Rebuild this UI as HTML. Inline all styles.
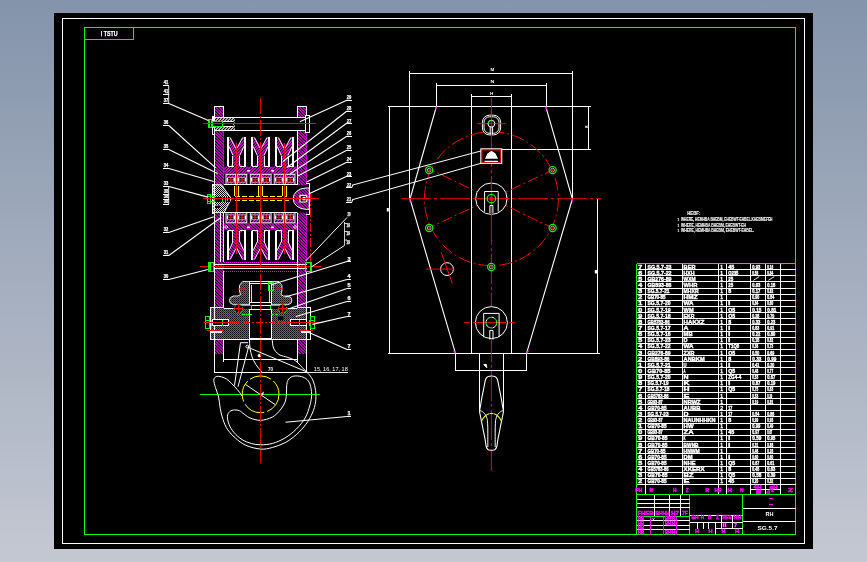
<!DOCTYPE html>
<html><head><meta charset="utf-8">
<style>
html,body{margin:0;padding:0;width:867px;height:562px;overflow:hidden;font-family:"Liberation Sans",sans-serif;}
body{background:linear-gradient(to bottom,#8494ab 0%,#c4c8d2 100%);}
svg{position:absolute;left:0;top:0;}
svg text{font-family:"Liberation Sans",sans-serif;}
</style></head><body>
<svg width="867" height="562" viewBox="0 0 867 562">
<g filter="url(#idf)">
<defs>
<filter id="idf" x="0" y="0" width="867" height="562" filterUnits="userSpaceOnUse" color-interpolation-filters="sRGB"><feOffset dx="0" dy="0"/></filter>
<pattern id="hB" width="3" height="3" patternUnits="userSpaceOnUse" shape-rendering="crispEdges"><rect x="0" y="0" width="1" height="1" fill="#8f008f"/><rect x="1" y="0" width="1" height="1" fill="#c300c3"/><rect x="2" y="0" width="1" height="1" fill="#0c000c"/><rect x="0" y="1" width="1" height="1" fill="#0c000c"/><rect x="1" y="1" width="1" height="1" fill="#8f008f"/><rect x="2" y="1" width="1" height="1" fill="#c300c3"/><rect x="0" y="2" width="1" height="1" fill="#c300c3"/><rect x="1" y="2" width="1" height="1" fill="#0c000c"/><rect x="2" y="2" width="1" height="1" fill="#8f008f"/></pattern>
<pattern id="hF" width="3" height="3" patternUnits="userSpaceOnUse" shape-rendering="crispEdges"><rect x="0" y="0" width="1" height="1" fill="#d700d7"/><rect x="1" y="0" width="1" height="1" fill="#180018"/><rect x="2" y="0" width="1" height="1" fill="#8f008f"/><rect x="0" y="1" width="1" height="1" fill="#180018"/><rect x="1" y="1" width="1" height="1" fill="#8f008f"/><rect x="2" y="1" width="1" height="1" fill="#d700d7"/><rect x="0" y="2" width="1" height="1" fill="#8f008f"/><rect x="1" y="2" width="1" height="1" fill="#d700d7"/><rect x="2" y="2" width="1" height="1" fill="#180018"/></pattern>
<pattern id="hW" width="3" height="3" patternUnits="userSpaceOnUse" shape-rendering="crispEdges"><rect x="0" y="0" width="1" height="1" fill="#c3c3c3"/><rect x="1" y="0" width="1" height="1" fill="#0c0c0c"/><rect x="2" y="0" width="1" height="1" fill="#8f8f8f"/><rect x="0" y="1" width="1" height="1" fill="#0c0c0c"/><rect x="1" y="1" width="1" height="1" fill="#8f8f8f"/><rect x="2" y="1" width="1" height="1" fill="#c3c3c3"/><rect x="0" y="2" width="1" height="1" fill="#8f8f8f"/><rect x="1" y="2" width="1" height="1" fill="#c3c3c3"/><rect x="2" y="2" width="1" height="1" fill="#0c0c0c"/></pattern>
<pattern id="hX" width="2" height="2" patternUnits="userSpaceOnUse" shape-rendering="crispEdges"><rect width="2" height="2" fill="#f0f"/><rect x="0" y="0" width="1" height="1" fill="#000" fill-opacity="0.95"/><rect x="1" y="1" width="1" height="1" fill="#000" fill-opacity="0.57"/></pattern>
<pattern id="hWX" width="2" height="2" patternUnits="userSpaceOnUse" shape-rendering="crispEdges"><rect width="2" height="2" fill="#000"/><rect x="1" width="1" height="1" fill="#fff" fill-opacity="0.85"/><rect x="0" y="1" width="1" height="1" fill="#fff" fill-opacity="0.85"/></pattern>
</defs>
<g shape-rendering="crispEdges">
<rect x="54" y="13" width="759" height="536" fill="#000" stroke="none" stroke-width="1" />
<rect x="62.5" y="18.5" width="742" height="525" fill="none" stroke="#fff" stroke-width="1" />
<rect x="84.5" y="27.5" width="711" height="507" fill="none" stroke="#0f0" stroke-width="1" />
<rect x="84.5" y="27.5" width="49" height="12" fill="none" stroke="#0f0" stroke-width="1" />
</g>
<text x="100.8" y="36" font-size="7" fill="#fff" text-anchor="start" font-weight="bold" textLength="16.8" lengthAdjust="spacingAndGlyphs" stroke="#fff" stroke-width="0.25">I TSTU</text>
<g shape-rendering="crispEdges">
<line x1="636.5" y1="269.5" x2="795.5" y2="269.5" stroke="#fff" stroke-width="1" />
<line x1="636.5" y1="275.5" x2="795.5" y2="275.5" stroke="#fff" stroke-width="1" />
<line x1="636.5" y1="281.5" x2="795.5" y2="281.5" stroke="#fff" stroke-width="1" />
<line x1="636.5" y1="288.5" x2="795.5" y2="288.5" stroke="#fff" stroke-width="1" />
<line x1="636.5" y1="294.5" x2="795.5" y2="294.5" stroke="#fff" stroke-width="1" />
<line x1="636.5" y1="300.5" x2="795.5" y2="300.5" stroke="#fff" stroke-width="1" />
<line x1="636.5" y1="306.5" x2="795.5" y2="306.5" stroke="#fff" stroke-width="1" />
<line x1="636.5" y1="312.5" x2="795.5" y2="312.5" stroke="#fff" stroke-width="1" />
<line x1="636.5" y1="318.5" x2="795.5" y2="318.5" stroke="#fff" stroke-width="1" />
<line x1="636.5" y1="324.5" x2="795.5" y2="324.5" stroke="#fff" stroke-width="1" />
<line x1="636.5" y1="331.5" x2="795.5" y2="331.5" stroke="#fff" stroke-width="1" />
<line x1="636.5" y1="337.5" x2="795.5" y2="337.5" stroke="#fff" stroke-width="1" />
<line x1="636.5" y1="343.5" x2="795.5" y2="343.5" stroke="#fff" stroke-width="1" />
<line x1="636.5" y1="349.5" x2="795.5" y2="349.5" stroke="#fff" stroke-width="1" />
<line x1="636.5" y1="355.5" x2="795.5" y2="355.5" stroke="#fff" stroke-width="1" />
<line x1="636.5" y1="361.5" x2="795.5" y2="361.5" stroke="#fff" stroke-width="1" />
<line x1="636.5" y1="367.5" x2="795.5" y2="367.5" stroke="#fff" stroke-width="1" />
<line x1="636.5" y1="374.5" x2="795.5" y2="374.5" stroke="#fff" stroke-width="1" />
<line x1="636.5" y1="380.5" x2="795.5" y2="380.5" stroke="#fff" stroke-width="1" />
<line x1="636.5" y1="386.5" x2="795.5" y2="386.5" stroke="#fff" stroke-width="1" />
<line x1="636.5" y1="392.5" x2="795.5" y2="392.5" stroke="#fff" stroke-width="1" />
<line x1="636.5" y1="398.5" x2="795.5" y2="398.5" stroke="#fff" stroke-width="1" />
<line x1="636.5" y1="404.5" x2="795.5" y2="404.5" stroke="#fff" stroke-width="1" />
<line x1="636.5" y1="410.5" x2="795.5" y2="410.5" stroke="#fff" stroke-width="1" />
<line x1="636.5" y1="416.5" x2="795.5" y2="416.5" stroke="#fff" stroke-width="1" />
<line x1="636.5" y1="423.5" x2="795.5" y2="423.5" stroke="#fff" stroke-width="1" />
<line x1="636.5" y1="429.5" x2="795.5" y2="429.5" stroke="#fff" stroke-width="1" />
<line x1="636.5" y1="435.5" x2="795.5" y2="435.5" stroke="#fff" stroke-width="1" />
<line x1="636.5" y1="441.5" x2="795.5" y2="441.5" stroke="#fff" stroke-width="1" />
<line x1="636.5" y1="447.5" x2="795.5" y2="447.5" stroke="#fff" stroke-width="1" />
<line x1="636.5" y1="453.5" x2="795.5" y2="453.5" stroke="#fff" stroke-width="1" />
<line x1="636.5" y1="459.5" x2="795.5" y2="459.5" stroke="#fff" stroke-width="1" />
<line x1="636.5" y1="466.5" x2="795.5" y2="466.5" stroke="#fff" stroke-width="1" />
<line x1="636.5" y1="472.5" x2="795.5" y2="472.5" stroke="#fff" stroke-width="1" />
<line x1="636.5" y1="478.5" x2="795.5" y2="478.5" stroke="#fff" stroke-width="1" />
<line x1="636.5" y1="484.5" x2="795.5" y2="484.5" stroke="#fff" stroke-width="1" />
<line x1="645.5" y1="263.5" x2="645.5" y2="494.5" stroke="#fff" stroke-width="1" />
<line x1="682.5" y1="263.5" x2="682.5" y2="494.5" stroke="#fff" stroke-width="1" />
<line x1="718.5" y1="263.5" x2="718.5" y2="494.5" stroke="#fff" stroke-width="1" />
<line x1="726.5" y1="263.5" x2="726.5" y2="494.5" stroke="#fff" stroke-width="1" />
<line x1="750.5" y1="263.5" x2="750.5" y2="494.5" stroke="#fff" stroke-width="1" />
<line x1="765.5" y1="263.5" x2="765.5" y2="494.5" stroke="#fff" stroke-width="1" />
<line x1="780.5" y1="263.5" x2="780.5" y2="494.5" stroke="#fff" stroke-width="1" />
<line x1="750.5" y1="489.5" x2="780.5" y2="489.5" stroke="#fff" stroke-width="1" />
<line x1="636.5" y1="263.5" x2="636.5" y2="534.5" stroke="#0f0" stroke-width="1" />
<line x1="636.5" y1="263.5" x2="795.5" y2="263.5" stroke="#0f0" stroke-width="1" />
<line x1="636.5" y1="494.5" x2="795.5" y2="494.5" stroke="#0f0" stroke-width="1" />
</g>
<g font-weight="bold" fill="#fff" font-size="5.6" stroke="#fff" stroke-width="0.4">
<text x="638.3" y="268.6" font-size="5.6" fill="#fff" text-anchor="start" font-weight="bold" textLength="4" lengthAdjust="spacingAndGlyphs" >7</text>
<text x="647.5" y="268.6" font-size="5.6" fill="#fff" text-anchor="start" font-weight="bold" textLength="24" lengthAdjust="spacingAndGlyphs" >SG.5.7-23</text>
<text x="683.6" y="268.6" font-size="5.8" fill="#fff" text-anchor="start" font-weight="bold" textLength="12" lengthAdjust="spacingAndGlyphs" >BER</text>
<text x="720.3" y="268.6" font-size="5.2" fill="#fff" text-anchor="start" font-weight="normal" >1</text>
<text x="728.3" y="268.6" font-size="5.4" fill="#fff" text-anchor="start" font-weight="bold" textLength="6" lengthAdjust="spacingAndGlyphs" >45</text>
<text x="752.3" y="268.6" font-size="5.6" fill="#fff" text-anchor="start" font-weight="bold" textLength="8" lengthAdjust="spacingAndGlyphs" >0.93</text>
<text x="767.3" y="268.6" font-size="5.6" fill="#fff" text-anchor="start" font-weight="bold" textLength="6" lengthAdjust="spacingAndGlyphs" >0.16</text>
<text x="638.3" y="274.73900000000003" font-size="5.6" fill="#fff" text-anchor="start" font-weight="bold" textLength="4" lengthAdjust="spacingAndGlyphs" >6</text>
<text x="647.5" y="274.73900000000003" font-size="5.6" fill="#fff" text-anchor="start" font-weight="bold" textLength="24" lengthAdjust="spacingAndGlyphs" >SG.5.7-22</text>
<text x="683.6" y="274.73900000000003" font-size="5.8" fill="#fff" text-anchor="start" font-weight="bold" textLength="11" lengthAdjust="spacingAndGlyphs" >HXH</text>
<text x="720.3" y="274.73900000000003" font-size="5.2" fill="#fff" text-anchor="start" font-weight="normal" >1</text>
<text x="728.3" y="274.73900000000003" font-size="5.4" fill="#fff" text-anchor="start" font-weight="bold" textLength="10" lengthAdjust="spacingAndGlyphs" >Q235</text>
<text x="752.3" y="274.73900000000003" font-size="5.6" fill="#fff" text-anchor="start" font-weight="bold" textLength="6" lengthAdjust="spacingAndGlyphs" >0.56</text>
<text x="767.3" y="274.73900000000003" font-size="5.6" fill="#fff" text-anchor="start" font-weight="bold" textLength="6" lengthAdjust="spacingAndGlyphs" >0.84</text>
<text x="638.3" y="280.87800000000004" font-size="5.6" fill="#fff" text-anchor="start" font-weight="bold" textLength="4" lengthAdjust="spacingAndGlyphs" >5</text>
<text x="647.5" y="280.87800000000004" font-size="5.6" fill="#fff" text-anchor="start" font-weight="bold" textLength="24" lengthAdjust="spacingAndGlyphs" >GB276-89</text>
<text x="683.6" y="280.87800000000004" font-size="5.8" fill="#fff" text-anchor="start" font-weight="bold" textLength="12" lengthAdjust="spacingAndGlyphs" >WXM</text>
<text x="720.3" y="280.87800000000004" font-size="5.2" fill="#fff" text-anchor="start" font-weight="normal" >1</text>
<text x="728.3" y="280.87800000000004" font-size="5.4" fill="#fff" text-anchor="start" font-weight="bold" textLength="5" lengthAdjust="spacingAndGlyphs" >25</text>
<line x1="753.3" y1="280.37800000000004" x2="759.3" y2="276.57800000000003" stroke="#fff" stroke-width="0.9" />
<line x1="768.3" y1="280.37800000000004" x2="774.3" y2="276.57800000000003" stroke="#fff" stroke-width="0.9" />
<text x="638.3" y="287.01700000000005" font-size="5.6" fill="#fff" text-anchor="start" font-weight="bold" textLength="4" lengthAdjust="spacingAndGlyphs" >4</text>
<text x="647.5" y="287.01700000000005" font-size="5.6" fill="#fff" text-anchor="start" font-weight="bold" textLength="24" lengthAdjust="spacingAndGlyphs" >GB893-86</text>
<text x="683.6" y="287.01700000000005" font-size="5.8" fill="#fff" text-anchor="start" font-weight="bold" textLength="14" lengthAdjust="spacingAndGlyphs" >WHR</text>
<text x="720.3" y="287.01700000000005" font-size="5.2" fill="#fff" text-anchor="start" font-weight="normal" >1</text>
<text x="728.3" y="287.01700000000005" font-size="5.4" fill="#fff" text-anchor="start" font-weight="bold" textLength="5" lengthAdjust="spacingAndGlyphs" >25</text>
<text x="752.3" y="287.01700000000005" font-size="5.6" fill="#fff" text-anchor="start" font-weight="bold" textLength="8" lengthAdjust="spacingAndGlyphs" >0.63</text>
<text x="767.3" y="287.01700000000005" font-size="5.6" fill="#fff" text-anchor="start" font-weight="bold" textLength="8" lengthAdjust="spacingAndGlyphs" >0.18</text>
<text x="638.3" y="293.156" font-size="5.6" fill="#fff" text-anchor="start" font-weight="bold" textLength="4" lengthAdjust="spacingAndGlyphs" >3</text>
<text x="647.5" y="293.156" font-size="5.6" fill="#fff" text-anchor="start" font-weight="bold" textLength="22" lengthAdjust="spacingAndGlyphs" >SG.5.7-21</text>
<text x="683.6" y="293.156" font-size="5.8" fill="#fff" text-anchor="start" font-weight="bold" textLength="15" lengthAdjust="spacingAndGlyphs" >MHXR</text>
<text x="720.3" y="293.156" font-size="5.2" fill="#fff" text-anchor="start" font-weight="normal" >1</text>
<text x="728.3" y="293.156" font-size="5.4" fill="#fff" text-anchor="start" font-weight="bold" textLength="3" lengthAdjust="spacingAndGlyphs" >8</text>
<text x="752.3" y="293.156" font-size="5.6" fill="#fff" text-anchor="start" font-weight="bold" textLength="8" lengthAdjust="spacingAndGlyphs" >0.17</text>
<text x="767.3" y="293.156" font-size="5.6" fill="#fff" text-anchor="start" font-weight="bold" textLength="6" lengthAdjust="spacingAndGlyphs" >0.82</text>
<text x="638.3" y="299.295" font-size="5.6" fill="#fff" text-anchor="start" font-weight="bold" textLength="4" lengthAdjust="spacingAndGlyphs" >2</text>
<text x="647.5" y="299.295" font-size="5.6" fill="#fff" text-anchor="start" font-weight="bold" textLength="18" lengthAdjust="spacingAndGlyphs" >GB70-85</text>
<text x="683.6" y="299.295" font-size="5.8" fill="#fff" text-anchor="start" font-weight="bold" textLength="14" lengthAdjust="spacingAndGlyphs" >HMZ</text>
<text x="720.3" y="299.295" font-size="5.2" fill="#fff" text-anchor="start" font-weight="normal" >1</text>
<text x="752.3" y="299.295" font-size="5.6" fill="#fff" text-anchor="start" font-weight="bold" textLength="7" lengthAdjust="spacingAndGlyphs" >0.90</text>
<text x="767.3" y="299.295" font-size="5.6" fill="#fff" text-anchor="start" font-weight="bold" textLength="7" lengthAdjust="spacingAndGlyphs" >0.84</text>
<text x="638.3" y="305.434" font-size="5.6" fill="#fff" text-anchor="start" font-weight="bold" textLength="4" lengthAdjust="spacingAndGlyphs" >1</text>
<text x="647.5" y="305.434" font-size="5.6" fill="#fff" text-anchor="start" font-weight="bold" textLength="23" lengthAdjust="spacingAndGlyphs" >SG.5.7-20</text>
<text x="683.6" y="305.434" font-size="5.8" fill="#fff" text-anchor="start" font-weight="bold" textLength="10" lengthAdjust="spacingAndGlyphs" >WA</text>
<text x="720.3" y="305.434" font-size="5.2" fill="#fff" text-anchor="start" font-weight="normal" >1</text>
<text x="728.3" y="305.434" font-size="5.4" fill="#fff" text-anchor="start" font-weight="bold" textLength="2" lengthAdjust="spacingAndGlyphs" >I</text>
<text x="752.3" y="305.434" font-size="5.6" fill="#fff" text-anchor="start" font-weight="bold" textLength="6" lengthAdjust="spacingAndGlyphs" >0.84</text>
<text x="767.3" y="305.434" font-size="5.6" fill="#fff" text-anchor="start" font-weight="bold" textLength="6" lengthAdjust="spacingAndGlyphs" >0.60</text>
<text x="638.3" y="311.57300000000004" font-size="5.6" fill="#fff" text-anchor="start" font-weight="bold" textLength="4" lengthAdjust="spacingAndGlyphs" >0</text>
<text x="647.5" y="311.57300000000004" font-size="5.6" fill="#fff" text-anchor="start" font-weight="bold" textLength="23" lengthAdjust="spacingAndGlyphs" >SG.5.7-19</text>
<text x="683.6" y="311.57300000000004" font-size="5.8" fill="#fff" text-anchor="start" font-weight="bold" textLength="10" lengthAdjust="spacingAndGlyphs" >WM</text>
<text x="720.3" y="311.57300000000004" font-size="5.2" fill="#fff" text-anchor="start" font-weight="normal" >1</text>
<text x="728.3" y="311.57300000000004" font-size="5.4" fill="#fff" text-anchor="start" font-weight="bold" textLength="7" lengthAdjust="spacingAndGlyphs" >Q5</text>
<text x="752.3" y="311.57300000000004" font-size="5.6" fill="#fff" text-anchor="start" font-weight="bold" textLength="9" lengthAdjust="spacingAndGlyphs" >0.15</text>
<text x="767.3" y="311.57300000000004" font-size="5.6" fill="#fff" text-anchor="start" font-weight="bold" textLength="9" lengthAdjust="spacingAndGlyphs" >0.81</text>
<text x="638.3" y="317.71200000000005" font-size="5.6" fill="#fff" text-anchor="start" font-weight="bold" textLength="4" lengthAdjust="spacingAndGlyphs" >9</text>
<text x="647.5" y="317.71200000000005" font-size="5.6" fill="#fff" text-anchor="start" font-weight="bold" textLength="23" lengthAdjust="spacingAndGlyphs" >SG.5.7-18</text>
<text x="683.6" y="317.71200000000005" font-size="5.8" fill="#fff" text-anchor="start" font-weight="bold" textLength="11" lengthAdjust="spacingAndGlyphs" >EKR</text>
<text x="720.3" y="317.71200000000005" font-size="5.2" fill="#fff" text-anchor="start" font-weight="normal" >1</text>
<text x="728.3" y="317.71200000000005" font-size="5.4" fill="#fff" text-anchor="start" font-weight="bold" textLength="7" lengthAdjust="spacingAndGlyphs" >Q5</text>
<text x="752.3" y="317.71200000000005" font-size="5.6" fill="#fff" text-anchor="start" font-weight="bold" textLength="7" lengthAdjust="spacingAndGlyphs" >0.28</text>
<text x="767.3" y="317.71200000000005" font-size="5.6" fill="#fff" text-anchor="start" font-weight="bold" textLength="7" lengthAdjust="spacingAndGlyphs" >0.79</text>
<text x="638.3" y="323.851" font-size="5.6" fill="#fff" text-anchor="start" font-weight="bold" textLength="4" lengthAdjust="spacingAndGlyphs" >8</text>
<text x="647.5" y="323.851" font-size="5.6" fill="#fff" text-anchor="start" font-weight="bold" textLength="22" lengthAdjust="spacingAndGlyphs" >GB5783-86</text>
<text x="683.6" y="323.851" font-size="5.8" fill="#fff" text-anchor="start" font-weight="bold" textLength="21" lengthAdjust="spacingAndGlyphs" >HAKXZ</text>
<text x="720.3" y="323.851" font-size="5.2" fill="#fff" text-anchor="start" font-weight="normal" >1</text>
<text x="728.3" y="323.851" font-size="5.4" fill="#fff" text-anchor="start" font-weight="bold" textLength="3" lengthAdjust="spacingAndGlyphs" >8</text>
<text x="752.3" y="323.851" font-size="5.6" fill="#fff" text-anchor="start" font-weight="bold" textLength="8" lengthAdjust="spacingAndGlyphs" >0.33</text>
<text x="767.3" y="323.851" font-size="5.6" fill="#fff" text-anchor="start" font-weight="bold" textLength="8" lengthAdjust="spacingAndGlyphs" >0.23</text>
<text x="638.3" y="329.99" font-size="5.6" fill="#fff" text-anchor="start" font-weight="bold" textLength="4" lengthAdjust="spacingAndGlyphs" >7</text>
<text x="647.5" y="329.99" font-size="5.6" fill="#fff" text-anchor="start" font-weight="bold" textLength="23" lengthAdjust="spacingAndGlyphs" >SG.5.7-17</text>
<text x="683.6" y="329.99" font-size="5.8" fill="#fff" text-anchor="start" font-weight="bold" textLength="5" lengthAdjust="spacingAndGlyphs" >A</text>
<text x="720.3" y="329.99" font-size="5.2" fill="#fff" text-anchor="start" font-weight="normal" >1</text>
<text x="728.3" y="329.99" font-size="5.4" fill="#fff" text-anchor="start" font-weight="bold" textLength="2" lengthAdjust="spacingAndGlyphs" >I</text>
<text x="752.3" y="329.99" font-size="5.6" fill="#fff" text-anchor="start" font-weight="bold" textLength="7" lengthAdjust="spacingAndGlyphs" >0.83</text>
<text x="767.3" y="329.99" font-size="5.6" fill="#fff" text-anchor="start" font-weight="bold" textLength="7" lengthAdjust="spacingAndGlyphs" >0.91</text>
<text x="638.3" y="336.129" font-size="5.6" fill="#fff" text-anchor="start" font-weight="bold" textLength="4" lengthAdjust="spacingAndGlyphs" >6</text>
<text x="647.5" y="336.129" font-size="5.6" fill="#fff" text-anchor="start" font-weight="bold" textLength="23" lengthAdjust="spacingAndGlyphs" >SG.5.7-16</text>
<text x="683.6" y="336.129" font-size="5.8" fill="#fff" text-anchor="start" font-weight="bold" textLength="9" lengthAdjust="spacingAndGlyphs" >MB</text>
<text x="720.3" y="336.129" font-size="5.2" fill="#fff" text-anchor="start" font-weight="normal" >1</text>
<text x="728.3" y="336.129" font-size="5.4" fill="#fff" text-anchor="start" font-weight="bold" textLength="2" lengthAdjust="spacingAndGlyphs" >I</text>
<text x="752.3" y="336.129" font-size="5.6" fill="#fff" text-anchor="start" font-weight="bold" textLength="8" lengthAdjust="spacingAndGlyphs" >0.22</text>
<text x="767.3" y="336.129" font-size="5.6" fill="#fff" text-anchor="start" font-weight="bold" textLength="8" lengthAdjust="spacingAndGlyphs" >0.80</text>
<text x="638.3" y="342.26800000000003" font-size="5.6" fill="#fff" text-anchor="start" font-weight="bold" textLength="4" lengthAdjust="spacingAndGlyphs" >5</text>
<text x="647.5" y="342.26800000000003" font-size="5.6" fill="#fff" text-anchor="start" font-weight="bold" textLength="23" lengthAdjust="spacingAndGlyphs" >SG.5.7-23</text>
<text x="683.6" y="342.26800000000003" font-size="5.8" fill="#fff" text-anchor="start" font-weight="bold" textLength="4" lengthAdjust="spacingAndGlyphs" >D</text>
<text x="720.3" y="342.26800000000003" font-size="5.2" fill="#fff" text-anchor="start" font-weight="normal" >1</text>
<text x="728.3" y="342.26800000000003" font-size="5.4" fill="#fff" text-anchor="start" font-weight="bold" textLength="2" lengthAdjust="spacingAndGlyphs" >I</text>
<text x="752.3" y="342.26800000000003" font-size="5.6" fill="#fff" text-anchor="start" font-weight="bold" textLength="7" lengthAdjust="spacingAndGlyphs" >0.18</text>
<text x="767.3" y="342.26800000000003" font-size="5.6" fill="#fff" text-anchor="start" font-weight="bold" textLength="6" lengthAdjust="spacingAndGlyphs" >0.82</text>
<text x="638.3" y="348.40700000000004" font-size="5.6" fill="#fff" text-anchor="start" font-weight="bold" textLength="4" lengthAdjust="spacingAndGlyphs" >4</text>
<text x="647.5" y="348.40700000000004" font-size="5.6" fill="#fff" text-anchor="start" font-weight="bold" textLength="23" lengthAdjust="spacingAndGlyphs" >SG.5.7-22</text>
<text x="683.6" y="348.40700000000004" font-size="5.8" fill="#fff" text-anchor="start" font-weight="bold" textLength="10" lengthAdjust="spacingAndGlyphs" >WA</text>
<text x="720.3" y="348.40700000000004" font-size="5.2" fill="#fff" text-anchor="start" font-weight="normal" >1</text>
<text x="728.3" y="348.40700000000004" font-size="5.4" fill="#fff" text-anchor="start" font-weight="bold" textLength="11" lengthAdjust="spacingAndGlyphs" >T1Q0</text>
<text x="752.3" y="348.40700000000004" font-size="5.6" fill="#fff" text-anchor="start" font-weight="bold" textLength="6" lengthAdjust="spacingAndGlyphs" >0.36</text>
<text x="767.3" y="348.40700000000004" font-size="5.6" fill="#fff" text-anchor="start" font-weight="bold" textLength="6" lengthAdjust="spacingAndGlyphs" >0.73</text>
<text x="638.3" y="354.54600000000005" font-size="5.6" fill="#fff" text-anchor="start" font-weight="bold" textLength="4" lengthAdjust="spacingAndGlyphs" >3</text>
<text x="647.5" y="354.54600000000005" font-size="5.6" fill="#fff" text-anchor="start" font-weight="bold" textLength="23" lengthAdjust="spacingAndGlyphs" >GB276-89</text>
<text x="683.6" y="354.54600000000005" font-size="5.8" fill="#fff" text-anchor="start" font-weight="bold" textLength="11" lengthAdjust="spacingAndGlyphs" >ZXR</text>
<text x="720.3" y="354.54600000000005" font-size="5.2" fill="#fff" text-anchor="start" font-weight="normal" >1</text>
<text x="728.3" y="354.54600000000005" font-size="5.4" fill="#fff" text-anchor="start" font-weight="bold" textLength="7" lengthAdjust="spacingAndGlyphs" >Q5</text>
<text x="752.3" y="354.54600000000005" font-size="5.6" fill="#fff" text-anchor="start" font-weight="bold" textLength="7" lengthAdjust="spacingAndGlyphs" >0.50</text>
<text x="767.3" y="354.54600000000005" font-size="5.6" fill="#fff" text-anchor="start" font-weight="bold" textLength="7" lengthAdjust="spacingAndGlyphs" >0.69</text>
<text x="638.3" y="360.68500000000006" font-size="5.6" fill="#fff" text-anchor="start" font-weight="bold" textLength="4" lengthAdjust="spacingAndGlyphs" >2</text>
<text x="647.5" y="360.68500000000006" font-size="5.6" fill="#fff" text-anchor="start" font-weight="bold" textLength="22" lengthAdjust="spacingAndGlyphs" >GB893-86</text>
<text x="683.6" y="360.68500000000006" font-size="5.8" fill="#fff" text-anchor="start" font-weight="bold" textLength="21" lengthAdjust="spacingAndGlyphs" >ANBKM</text>
<text x="720.3" y="360.68500000000006" font-size="5.2" fill="#fff" text-anchor="start" font-weight="normal" >1</text>
<text x="728.3" y="360.68500000000006" font-size="5.4" fill="#fff" text-anchor="start" font-weight="bold" textLength="3" lengthAdjust="spacingAndGlyphs" >8</text>
<text x="752.3" y="360.68500000000006" font-size="5.6" fill="#fff" text-anchor="start" font-weight="bold" textLength="9" lengthAdjust="spacingAndGlyphs" >0.33</text>
<text x="767.3" y="360.68500000000006" font-size="5.6" fill="#fff" text-anchor="start" font-weight="bold" textLength="9" lengthAdjust="spacingAndGlyphs" >0.99</text>
<text x="638.3" y="366.824" font-size="5.6" fill="#fff" text-anchor="start" font-weight="bold" textLength="4" lengthAdjust="spacingAndGlyphs" >1</text>
<text x="647.5" y="366.824" font-size="5.6" fill="#fff" text-anchor="start" font-weight="bold" textLength="23" lengthAdjust="spacingAndGlyphs" >SG.5.7-21</text>
<text x="683.6" y="366.824" font-size="5.8" fill="#fff" text-anchor="start" font-weight="bold" textLength="3" lengthAdjust="spacingAndGlyphs" >U</text>
<text x="720.3" y="366.824" font-size="5.2" fill="#fff" text-anchor="start" font-weight="normal" >1</text>
<text x="728.3" y="366.824" font-size="5.4" fill="#fff" text-anchor="start" font-weight="bold" textLength="2" lengthAdjust="spacingAndGlyphs" >I</text>
<text x="752.3" y="366.824" font-size="5.6" fill="#fff" text-anchor="start" font-weight="bold" textLength="7" lengthAdjust="spacingAndGlyphs" >0.41</text>
<text x="767.3" y="366.824" font-size="5.6" fill="#fff" text-anchor="start" font-weight="bold" textLength="7" lengthAdjust="spacingAndGlyphs" >0.20</text>
<text x="638.3" y="372.963" font-size="5.6" fill="#fff" text-anchor="start" font-weight="bold" textLength="4" lengthAdjust="spacingAndGlyphs" >0</text>
<text x="647.5" y="372.963" font-size="5.6" fill="#fff" text-anchor="start" font-weight="bold" textLength="23" lengthAdjust="spacingAndGlyphs" >GB70-85</text>
<text x="683.6" y="372.963" font-size="5.8" fill="#fff" text-anchor="start" font-weight="bold" textLength="2" lengthAdjust="spacingAndGlyphs" >A</text>
<text x="720.3" y="372.963" font-size="5.2" fill="#fff" text-anchor="start" font-weight="normal" >1</text>
<text x="728.3" y="372.963" font-size="5.4" fill="#fff" text-anchor="start" font-weight="bold" textLength="7" lengthAdjust="spacingAndGlyphs" >Q5</text>
<text x="752.3" y="372.963" font-size="5.6" fill="#fff" text-anchor="start" font-weight="bold" textLength="6" lengthAdjust="spacingAndGlyphs" >0.48</text>
<text x="767.3" y="372.963" font-size="5.6" fill="#fff" text-anchor="start" font-weight="bold" textLength="6" lengthAdjust="spacingAndGlyphs" >0.77</text>
<text x="638.3" y="379.10200000000003" font-size="5.6" fill="#fff" text-anchor="start" font-weight="bold" textLength="4" lengthAdjust="spacingAndGlyphs" >9</text>
<text x="647.5" y="379.10200000000003" font-size="5.6" fill="#fff" text-anchor="start" font-weight="bold" textLength="23" lengthAdjust="spacingAndGlyphs" >SG.5.7-20</text>
<text x="683.6" y="379.10200000000003" font-size="5.8" fill="#fff" text-anchor="start" font-weight="bold" textLength="5" lengthAdjust="spacingAndGlyphs" >N</text>
<text x="720.3" y="379.10200000000003" font-size="5.2" fill="#fff" text-anchor="start" font-weight="normal" >1</text>
<text x="728.3" y="379.10200000000003" font-size="5.4" fill="#fff" text-anchor="start" font-weight="bold" textLength="13" lengthAdjust="spacingAndGlyphs" >ZG4-4</text>
<text x="752.3" y="379.10200000000003" font-size="5.6" fill="#fff" text-anchor="start" font-weight="bold" textLength="6" lengthAdjust="spacingAndGlyphs" >0.53</text>
<text x="767.3" y="379.10200000000003" font-size="5.6" fill="#fff" text-anchor="start" font-weight="bold" textLength="8" lengthAdjust="spacingAndGlyphs" >0.67</text>
<text x="638.3" y="385.24100000000004" font-size="5.6" fill="#fff" text-anchor="start" font-weight="bold" textLength="4" lengthAdjust="spacingAndGlyphs" >8</text>
<text x="647.5" y="385.24100000000004" font-size="5.6" fill="#fff" text-anchor="start" font-weight="bold" textLength="21" lengthAdjust="spacingAndGlyphs" >SG.5.7-19</text>
<text x="683.6" y="385.24100000000004" font-size="5.8" fill="#fff" text-anchor="start" font-weight="bold" textLength="6" lengthAdjust="spacingAndGlyphs" >K</text>
<text x="720.3" y="385.24100000000004" font-size="5.2" fill="#fff" text-anchor="start" font-weight="normal" >1</text>
<text x="728.3" y="385.24100000000004" font-size="5.4" fill="#fff" text-anchor="start" font-weight="bold" textLength="2" lengthAdjust="spacingAndGlyphs" >I</text>
<text x="752.3" y="385.24100000000004" font-size="5.6" fill="#fff" text-anchor="start" font-weight="bold" textLength="8" lengthAdjust="spacingAndGlyphs" >0.87</text>
<text x="767.3" y="385.24100000000004" font-size="5.6" fill="#fff" text-anchor="start" font-weight="bold" textLength="8" lengthAdjust="spacingAndGlyphs" >0.19</text>
<text x="638.3" y="391.38" font-size="5.6" fill="#fff" text-anchor="start" font-weight="bold" textLength="4" lengthAdjust="spacingAndGlyphs" >7</text>
<text x="647.5" y="391.38" font-size="5.6" fill="#fff" text-anchor="start" font-weight="bold" textLength="22" lengthAdjust="spacingAndGlyphs" >SG.5.7-18</text>
<text x="683.6" y="391.38" font-size="5.8" fill="#fff" text-anchor="start" font-weight="bold" textLength="6" lengthAdjust="spacingAndGlyphs" >H</text>
<text x="720.3" y="391.38" font-size="5.2" fill="#fff" text-anchor="start" font-weight="normal" >1</text>
<text x="728.3" y="391.38" font-size="5.4" fill="#fff" text-anchor="start" font-weight="bold" textLength="7" lengthAdjust="spacingAndGlyphs" >Q5</text>
<text x="752.3" y="391.38" font-size="5.6" fill="#fff" text-anchor="start" font-weight="bold" textLength="6" lengthAdjust="spacingAndGlyphs" >0.75</text>
<text x="767.3" y="391.38" font-size="5.6" fill="#fff" text-anchor="start" font-weight="bold" textLength="6" lengthAdjust="spacingAndGlyphs" >0.63</text>
<text x="638.3" y="397.519" font-size="5.6" fill="#fff" text-anchor="start" font-weight="bold" textLength="4" lengthAdjust="spacingAndGlyphs" >6</text>
<text x="647.5" y="397.519" font-size="5.6" fill="#fff" text-anchor="start" font-weight="bold" textLength="21" lengthAdjust="spacingAndGlyphs" >GB5783-86</text>
<text x="683.6" y="397.519" font-size="5.8" fill="#fff" text-anchor="start" font-weight="bold" textLength="6" lengthAdjust="spacingAndGlyphs" >E</text>
<text x="720.3" y="397.519" font-size="5.2" fill="#fff" text-anchor="start" font-weight="normal" >1</text>
<text x="752.3" y="397.519" font-size="5.6" fill="#fff" text-anchor="start" font-weight="bold" textLength="6" lengthAdjust="spacingAndGlyphs" >0.53</text>
<text x="767.3" y="397.519" font-size="5.6" fill="#fff" text-anchor="start" font-weight="bold" textLength="5" lengthAdjust="spacingAndGlyphs" >0.29</text>
<text x="638.3" y="403.658" font-size="5.6" fill="#fff" text-anchor="start" font-weight="bold" textLength="4" lengthAdjust="spacingAndGlyphs" >5</text>
<text x="647.5" y="403.658" font-size="5.6" fill="#fff" text-anchor="start" font-weight="bold" textLength="15" lengthAdjust="spacingAndGlyphs" >GB93-87</text>
<text x="683.6" y="403.658" font-size="5.8" fill="#fff" text-anchor="start" font-weight="bold" textLength="17" lengthAdjust="spacingAndGlyphs" >NRWZ</text>
<text x="720.3" y="403.658" font-size="5.2" fill="#fff" text-anchor="start" font-weight="normal" >1</text>
<text x="752.3" y="403.658" font-size="5.6" fill="#fff" text-anchor="start" font-weight="bold" textLength="6" lengthAdjust="spacingAndGlyphs" >0.19</text>
<text x="767.3" y="403.658" font-size="5.6" fill="#fff" text-anchor="start" font-weight="bold" textLength="6" lengthAdjust="spacingAndGlyphs" >0.81</text>
<text x="638.3" y="409.797" font-size="5.6" fill="#fff" text-anchor="start" font-weight="bold" textLength="4" lengthAdjust="spacingAndGlyphs" >4</text>
<text x="647.5" y="409.797" font-size="5.6" fill="#fff" text-anchor="start" font-weight="bold" textLength="19" lengthAdjust="spacingAndGlyphs" >GB70-85</text>
<text x="683.6" y="409.797" font-size="5.8" fill="#fff" text-anchor="start" font-weight="bold" textLength="17" lengthAdjust="spacingAndGlyphs" >AUBB</text>
<text x="720.3" y="409.797" font-size="5.2" fill="#fff" text-anchor="start" font-weight="normal" >2</text>
<text x="728.3" y="409.797" font-size="5.4" fill="#fff" text-anchor="start" font-weight="bold" textLength="4" lengthAdjust="spacingAndGlyphs" >17</text>
<text x="638.3" y="415.93600000000004" font-size="5.6" fill="#fff" text-anchor="start" font-weight="bold" textLength="4" lengthAdjust="spacingAndGlyphs" >3</text>
<text x="647.5" y="415.93600000000004" font-size="5.6" fill="#fff" text-anchor="start" font-weight="bold" textLength="21" lengthAdjust="spacingAndGlyphs" >SG.5.7-23</text>
<text x="683.6" y="415.93600000000004" font-size="5.8" fill="#fff" text-anchor="start" font-weight="bold" textLength="5" lengthAdjust="spacingAndGlyphs" >D</text>
<text x="720.3" y="415.93600000000004" font-size="5.2" fill="#fff" text-anchor="start" font-weight="normal" >1</text>
<text x="728.3" y="415.93600000000004" font-size="5.4" fill="#fff" text-anchor="start" font-weight="bold" textLength="4" lengthAdjust="spacingAndGlyphs" >17</text>
<text x="752.3" y="415.93600000000004" font-size="5.6" fill="#fff" text-anchor="start" font-weight="bold" textLength="7" lengthAdjust="spacingAndGlyphs" >0.54</text>
<text x="767.3" y="415.93600000000004" font-size="5.6" fill="#fff" text-anchor="start" font-weight="bold" textLength="7" lengthAdjust="spacingAndGlyphs" >0.86</text>
<text x="638.3" y="422.07500000000005" font-size="5.6" fill="#fff" text-anchor="start" font-weight="bold" textLength="4" lengthAdjust="spacingAndGlyphs" >2</text>
<text x="647.5" y="422.07500000000005" font-size="5.6" fill="#fff" text-anchor="start" font-weight="bold" textLength="15" lengthAdjust="spacingAndGlyphs" >GB93-87</text>
<text x="683.6" y="422.07500000000005" font-size="5.8" fill="#fff" text-anchor="start" font-weight="bold" textLength="32" lengthAdjust="spacingAndGlyphs" >NAUNHHKN</text>
<text x="720.3" y="422.07500000000005" font-size="5.2" fill="#fff" text-anchor="start" font-weight="normal" >1</text>
<text x="728.3" y="422.07500000000005" font-size="5.4" fill="#fff" text-anchor="start" font-weight="bold" textLength="3" lengthAdjust="spacingAndGlyphs" >8</text>
<text x="752.3" y="422.07500000000005" font-size="5.6" fill="#fff" text-anchor="start" font-weight="bold" textLength="6" lengthAdjust="spacingAndGlyphs" >0.99</text>
<text x="767.3" y="422.07500000000005" font-size="5.6" fill="#fff" text-anchor="start" font-weight="bold" textLength="6" lengthAdjust="spacingAndGlyphs" >0.95</text>
<text x="638.3" y="428.21400000000006" font-size="5.6" fill="#fff" text-anchor="start" font-weight="bold" textLength="4" lengthAdjust="spacingAndGlyphs" >1</text>
<text x="647.5" y="428.21400000000006" font-size="5.6" fill="#fff" text-anchor="start" font-weight="bold" textLength="19" lengthAdjust="spacingAndGlyphs" >GB70-85</text>
<text x="683.6" y="428.21400000000006" font-size="5.8" fill="#fff" text-anchor="start" font-weight="bold" textLength="10" lengthAdjust="spacingAndGlyphs" >HW</text>
<text x="720.3" y="428.21400000000006" font-size="5.2" fill="#fff" text-anchor="start" font-weight="normal" >1</text>
<text x="752.3" y="428.21400000000006" font-size="5.6" fill="#fff" text-anchor="start" font-weight="bold" textLength="8" lengthAdjust="spacingAndGlyphs" >0.99</text>
<text x="767.3" y="428.21400000000006" font-size="5.6" fill="#fff" text-anchor="start" font-weight="bold" textLength="6" lengthAdjust="spacingAndGlyphs" >0.49</text>
<text x="638.3" y="434.35300000000007" font-size="5.6" fill="#fff" text-anchor="start" font-weight="bold" textLength="4" lengthAdjust="spacingAndGlyphs" >0</text>
<text x="647.5" y="434.35300000000007" font-size="5.6" fill="#fff" text-anchor="start" font-weight="bold" textLength="15" lengthAdjust="spacingAndGlyphs" >GB93-87</text>
<text x="683.6" y="434.35300000000007" font-size="5.8" fill="#fff" text-anchor="start" font-weight="bold" textLength="10" lengthAdjust="spacingAndGlyphs" >ZA</text>
<text x="720.3" y="434.35300000000007" font-size="5.2" fill="#fff" text-anchor="start" font-weight="normal" >1</text>
<text x="728.3" y="434.35300000000007" font-size="5.4" fill="#fff" text-anchor="start" font-weight="bold" textLength="6" lengthAdjust="spacingAndGlyphs" >45</text>
<text x="752.3" y="434.35300000000007" font-size="5.6" fill="#fff" text-anchor="start" font-weight="bold" textLength="7" lengthAdjust="spacingAndGlyphs" >0.97</text>
<text x="767.3" y="434.35300000000007" font-size="5.6" fill="#fff" text-anchor="start" font-weight="bold" textLength="5" lengthAdjust="spacingAndGlyphs" >0.67</text>
<text x="638.3" y="440.492" font-size="5.6" fill="#fff" text-anchor="start" font-weight="bold" textLength="4" lengthAdjust="spacingAndGlyphs" >9</text>
<text x="647.5" y="440.492" font-size="5.6" fill="#fff" text-anchor="start" font-weight="bold" textLength="20" lengthAdjust="spacingAndGlyphs" >GB70-85</text>
<text x="683.6" y="440.492" font-size="5.8" fill="#fff" text-anchor="start" font-weight="bold" textLength="2" lengthAdjust="spacingAndGlyphs" >K</text>
<text x="720.3" y="440.492" font-size="5.2" fill="#fff" text-anchor="start" font-weight="normal" >1</text>
<text x="728.3" y="440.492" font-size="5.4" fill="#fff" text-anchor="start" font-weight="bold" textLength="2" lengthAdjust="spacingAndGlyphs" >I</text>
<text x="752.3" y="440.492" font-size="5.6" fill="#fff" text-anchor="start" font-weight="bold" textLength="9" lengthAdjust="spacingAndGlyphs" >0.59</text>
<text x="767.3" y="440.492" font-size="5.6" fill="#fff" text-anchor="start" font-weight="bold" textLength="8" lengthAdjust="spacingAndGlyphs" >0.95</text>
<text x="638.3" y="446.63100000000003" font-size="5.6" fill="#fff" text-anchor="start" font-weight="bold" textLength="4" lengthAdjust="spacingAndGlyphs" >8</text>
<text x="647.5" y="446.63100000000003" font-size="5.6" fill="#fff" text-anchor="start" font-weight="bold" textLength="20" lengthAdjust="spacingAndGlyphs" >GB70-85</text>
<text x="683.6" y="446.63100000000003" font-size="5.8" fill="#fff" text-anchor="start" font-weight="bold" textLength="15" lengthAdjust="spacingAndGlyphs" >BWNB</text>
<text x="720.3" y="446.63100000000003" font-size="5.2" fill="#fff" text-anchor="start" font-weight="normal" >1</text>
<text x="728.3" y="446.63100000000003" font-size="5.4" fill="#fff" text-anchor="start" font-weight="bold" textLength="2" lengthAdjust="spacingAndGlyphs" >I</text>
<text x="752.3" y="446.63100000000003" font-size="5.6" fill="#fff" text-anchor="start" font-weight="bold" textLength="6" lengthAdjust="spacingAndGlyphs" >0.31</text>
<text x="767.3" y="446.63100000000003" font-size="5.6" fill="#fff" text-anchor="start" font-weight="bold" textLength="6" lengthAdjust="spacingAndGlyphs" >0.88</text>
<text x="638.3" y="452.77000000000004" font-size="5.6" fill="#fff" text-anchor="start" font-weight="bold" textLength="4" lengthAdjust="spacingAndGlyphs" >7</text>
<text x="647.5" y="452.77000000000004" font-size="5.6" fill="#fff" text-anchor="start" font-weight="bold" textLength="18" lengthAdjust="spacingAndGlyphs" >GB70-85</text>
<text x="683.6" y="452.77000000000004" font-size="5.8" fill="#fff" text-anchor="start" font-weight="bold" textLength="16" lengthAdjust="spacingAndGlyphs" >HNWM</text>
<text x="720.3" y="452.77000000000004" font-size="5.2" fill="#fff" text-anchor="start" font-weight="normal" >1</text>
<text x="752.3" y="452.77000000000004" font-size="5.6" fill="#fff" text-anchor="start" font-weight="bold" textLength="6" lengthAdjust="spacingAndGlyphs" >0.46</text>
<text x="767.3" y="452.77000000000004" font-size="5.6" fill="#fff" text-anchor="start" font-weight="bold" textLength="6" lengthAdjust="spacingAndGlyphs" >0.26</text>
<text x="638.3" y="458.909" font-size="5.6" fill="#fff" text-anchor="start" font-weight="bold" textLength="4" lengthAdjust="spacingAndGlyphs" >6</text>
<text x="647.5" y="458.909" font-size="5.6" fill="#fff" text-anchor="start" font-weight="bold" textLength="19" lengthAdjust="spacingAndGlyphs" >GB70-85</text>
<text x="683.6" y="458.909" font-size="5.8" fill="#fff" text-anchor="start" font-weight="bold" textLength="9" lengthAdjust="spacingAndGlyphs" >DM</text>
<text x="720.3" y="458.909" font-size="5.2" fill="#fff" text-anchor="start" font-weight="normal" >1</text>
<text x="728.3" y="458.909" font-size="5.4" fill="#fff" text-anchor="start" font-weight="bold" textLength="2" lengthAdjust="spacingAndGlyphs" >I</text>
<text x="752.3" y="458.909" font-size="5.6" fill="#fff" text-anchor="start" font-weight="bold" textLength="6" lengthAdjust="spacingAndGlyphs" >0.60</text>
<text x="767.3" y="458.909" font-size="5.6" fill="#fff" text-anchor="start" font-weight="bold" textLength="6" lengthAdjust="spacingAndGlyphs" >0.60</text>
<text x="638.3" y="465.048" font-size="5.6" fill="#fff" text-anchor="start" font-weight="bold" textLength="4" lengthAdjust="spacingAndGlyphs" >5</text>
<text x="647.5" y="465.048" font-size="5.6" fill="#fff" text-anchor="start" font-weight="bold" textLength="19" lengthAdjust="spacingAndGlyphs" >GB70-85</text>
<text x="683.6" y="465.048" font-size="5.8" fill="#fff" text-anchor="start" font-weight="bold" textLength="12" lengthAdjust="spacingAndGlyphs" >NHE</text>
<text x="720.3" y="465.048" font-size="5.2" fill="#fff" text-anchor="start" font-weight="normal" >1</text>
<text x="728.3" y="465.048" font-size="5.4" fill="#fff" text-anchor="start" font-weight="bold" textLength="7" lengthAdjust="spacingAndGlyphs" >Q5</text>
<text x="752.3" y="465.048" font-size="5.6" fill="#fff" text-anchor="start" font-weight="bold" textLength="7" lengthAdjust="spacingAndGlyphs" >0.67</text>
<text x="767.3" y="465.048" font-size="5.6" fill="#fff" text-anchor="start" font-weight="bold" textLength="7" lengthAdjust="spacingAndGlyphs" >0.61</text>
<text x="638.3" y="471.187" font-size="5.6" fill="#fff" text-anchor="start" font-weight="bold" textLength="4" lengthAdjust="spacingAndGlyphs" >4</text>
<text x="647.5" y="471.187" font-size="5.6" fill="#fff" text-anchor="start" font-weight="bold" textLength="21" lengthAdjust="spacingAndGlyphs" >GB5783-86</text>
<text x="683.6" y="471.187" font-size="5.8" fill="#fff" text-anchor="start" font-weight="bold" textLength="21" lengthAdjust="spacingAndGlyphs" >XKERX</text>
<text x="720.3" y="471.187" font-size="5.2" fill="#fff" text-anchor="start" font-weight="normal" >1</text>
<text x="728.3" y="471.187" font-size="5.4" fill="#fff" text-anchor="start" font-weight="bold" textLength="3" lengthAdjust="spacingAndGlyphs" >8</text>
<text x="752.3" y="471.187" font-size="5.6" fill="#fff" text-anchor="start" font-weight="bold" textLength="7" lengthAdjust="spacingAndGlyphs" >0.45</text>
<text x="767.3" y="471.187" font-size="5.6" fill="#fff" text-anchor="start" font-weight="bold" textLength="8" lengthAdjust="spacingAndGlyphs" >0.63</text>
<text x="638.3" y="477.326" font-size="5.6" fill="#fff" text-anchor="start" font-weight="bold" textLength="4" lengthAdjust="spacingAndGlyphs" >3</text>
<text x="647.5" y="477.326" font-size="5.6" fill="#fff" text-anchor="start" font-weight="bold" textLength="20" lengthAdjust="spacingAndGlyphs" >GB70-85</text>
<text x="683.6" y="477.326" font-size="5.8" fill="#fff" text-anchor="start" font-weight="bold" textLength="10" lengthAdjust="spacingAndGlyphs" >BZ</text>
<text x="720.3" y="477.326" font-size="5.2" fill="#fff" text-anchor="start" font-weight="normal" >1</text>
<text x="728.3" y="477.326" font-size="5.4" fill="#fff" text-anchor="start" font-weight="bold" textLength="7" lengthAdjust="spacingAndGlyphs" >Q5</text>
<text x="752.3" y="477.326" font-size="5.6" fill="#fff" text-anchor="start" font-weight="bold" textLength="9" lengthAdjust="spacingAndGlyphs" >0.58</text>
<text x="767.3" y="477.326" font-size="5.6" fill="#fff" text-anchor="start" font-weight="bold" textLength="8" lengthAdjust="spacingAndGlyphs" >0.39</text>
<text x="638.3" y="483.46500000000003" font-size="5.6" fill="#fff" text-anchor="start" font-weight="bold" textLength="4" lengthAdjust="spacingAndGlyphs" >2</text>
<text x="647.5" y="483.46500000000003" font-size="5.6" fill="#fff" text-anchor="start" font-weight="bold" textLength="19" lengthAdjust="spacingAndGlyphs" >GB70-85</text>
<text x="683.6" y="483.46500000000003" font-size="5.8" fill="#fff" text-anchor="start" font-weight="bold" textLength="6" lengthAdjust="spacingAndGlyphs" >E</text>
<text x="720.3" y="483.46500000000003" font-size="5.2" fill="#fff" text-anchor="start" font-weight="normal" >1</text>
<text x="728.3" y="483.46500000000003" font-size="5.4" fill="#fff" text-anchor="start" font-weight="bold" textLength="6" lengthAdjust="spacingAndGlyphs" >45</text>
<text x="752.3" y="483.46500000000003" font-size="5.6" fill="#fff" text-anchor="start" font-weight="bold" textLength="6" lengthAdjust="spacingAndGlyphs" >0.20</text>
<text x="767.3" y="483.46500000000003" font-size="5.6" fill="#fff" text-anchor="start" font-weight="bold" textLength="6" lengthAdjust="spacingAndGlyphs" >0.32</text>
</g>
<g stroke="#f0f" stroke-width="0.45">
<text x="635.2" y="491.5" font-size="5.8" fill="#f0f" text-anchor="start" font-weight="bold" textLength="7" lengthAdjust="spacingAndGlyphs" >FH</text>
<text x="649.5" y="491.5" font-size="5.8" fill="#f0f" text-anchor="start" font-weight="bold" textLength="3.5" lengthAdjust="spacingAndGlyphs" >If</text>
<text x="673" y="491.5" font-size="5.8" fill="#f0f" text-anchor="start" font-weight="bold" textLength="3.5" lengthAdjust="spacingAndGlyphs" >H</text>
<text x="686" y="491.5" font-size="5.8" fill="#f0f" text-anchor="start" font-weight="bold" textLength="2.5" lengthAdjust="spacingAndGlyphs" >Z</text>
<text x="705.5" y="491.5" font-size="5.8" fill="#f0f" text-anchor="start" font-weight="bold" textLength="3.5" lengthAdjust="spacingAndGlyphs" >R</text>
<text x="714.5" y="491.5" font-size="5.8" fill="#f0f" text-anchor="start" font-weight="bold" textLength="6.5" lengthAdjust="spacingAndGlyphs" >HE</text>
<text x="727.5" y="491.5" font-size="5.8" fill="#f0f" text-anchor="start" font-weight="bold" textLength="4.5" lengthAdjust="spacingAndGlyphs" >H</text>
<text x="740" y="491.5" font-size="5.8" fill="#f0f" text-anchor="start" font-weight="bold" textLength="3.5" lengthAdjust="spacingAndGlyphs" >N</text>
<text x="771" y="491.5" font-size="5.8" fill="#f0f" text-anchor="start" font-weight="bold" textLength="3" lengthAdjust="spacingAndGlyphs" >Z</text>
<text x="788" y="491.5" font-size="5.8" fill="#f0f" text-anchor="start" font-weight="bold" textLength="5" lengthAdjust="spacingAndGlyphs" >Z</text>
<text x="753.5" y="489" font-size="5.5" fill="#f0f" text-anchor="start" font-weight="bold" textLength="8" lengthAdjust="spacingAndGlyphs" >4H</text>
<text x="769.5" y="489" font-size="5.5" fill="#f0f" text-anchor="start" font-weight="bold" textLength="8" lengthAdjust="spacingAndGlyphs" >gH</text>
<rect x="756" y="489.5" width="5" height="4.5" fill="#f0f" stroke="none" stroke-width="1" fill-opacity="0.9"/>
<text x="766.5" y="493.8" font-size="5.5" fill="#f0f" text-anchor="start" font-weight="bold" textLength="3.5" lengthAdjust="spacingAndGlyphs" >d</text>
</g>
<g shape-rendering="crispEdges">
<line x1="689.5" y1="494.5" x2="689.5" y2="534.5" stroke="#0f0" stroke-width="1" />
<line x1="742.5" y1="494.5" x2="742.5" y2="534.5" stroke="#0f0" stroke-width="1" />
<line x1="636.5" y1="499.5" x2="689.5" y2="499.5" stroke="#fff" stroke-width="1" />
<line x1="636.5" y1="503.5" x2="689.5" y2="503.5" stroke="#fff" stroke-width="1" />
<line x1="636.5" y1="507.5" x2="689.5" y2="507.5" stroke="#fff" stroke-width="1" />
<line x1="654.5" y1="494.5" x2="654.5" y2="516.5" stroke="#fff" stroke-width="1" />
<line x1="669.5" y1="494.5" x2="669.5" y2="516.5" stroke="#fff" stroke-width="1" />
<line x1="680.5" y1="494.5" x2="680.5" y2="516.5" stroke="#fff" stroke-width="1" />
<line x1="636.5" y1="516.5" x2="689.5" y2="516.5" stroke="#0f0" stroke-width="1" />
<line x1="636.5" y1="520.5" x2="689.5" y2="520.5" stroke="#fff" stroke-width="1" />
<line x1="636.5" y1="525.5" x2="689.5" y2="525.5" stroke="#fff" stroke-width="1" />
<line x1="636.5" y1="529.5" x2="689.5" y2="529.5" stroke="#fff" stroke-width="1" />
<line x1="650.5" y1="516.5" x2="650.5" y2="534.5" stroke="#f0f" stroke-width="1" />
<line x1="663.5" y1="516.5" x2="663.5" y2="534.5" stroke="#f0f" stroke-width="1" />
<line x1="676.5" y1="516.5" x2="676.5" y2="534.5" stroke="#f0f" stroke-width="1" />
<line x1="689.5" y1="515.5" x2="742.5" y2="515.5" stroke="#fff" stroke-width="1" />
<line x1="689.5" y1="522.5" x2="742.5" y2="522.5" stroke="#fff" stroke-width="1" />
<line x1="715.5" y1="528.5" x2="742.5" y2="528.5" stroke="#fff" stroke-width="1" />
<line x1="697.5" y1="522.5" x2="697.5" y2="528.5" stroke="#fff" stroke-width="1" />
<line x1="703.5" y1="522.5" x2="703.5" y2="528.5" stroke="#fff" stroke-width="1" />
<line x1="708.5" y1="522.5" x2="708.5" y2="528.5" stroke="#fff" stroke-width="1" />
<line x1="715.5" y1="522.5" x2="715.5" y2="534.5" stroke="#fff" stroke-width="1" />
<line x1="721.5" y1="515.5" x2="721.5" y2="528.5" stroke="#fff" stroke-width="1" />
<line x1="732.5" y1="515.5" x2="732.5" y2="528.5" stroke="#fff" stroke-width="1" />
<line x1="742.5" y1="508.5" x2="795.5" y2="508.5" stroke="#fff" stroke-width="1" />
<line x1="742.5" y1="521.5" x2="795.5" y2="521.5" stroke="#fff" stroke-width="1" />
<line x1="769" y1="498.5" x2="772.5" y2="498.5" stroke="#f0f" stroke-width="1" />
<line x1="769" y1="504.5" x2="772.5" y2="504.5" stroke="#f0f" stroke-width="1" />
</g>
<g stroke="#f0f" stroke-width="0.45">
<text x="637.5" y="514.6" font-size="5.8" fill="#f0f" text-anchor="start" font-weight="bold" textLength="16" lengthAdjust="spacingAndGlyphs" >FHEB</text>
<text x="655.5" y="514.6" font-size="5.8" fill="#f0f" text-anchor="start" font-weight="bold" textLength="14" lengthAdjust="spacingAndGlyphs" >BHHH</text>
<text x="671" y="514.6" font-size="5.8" fill="#f0f" text-anchor="start" font-weight="bold" textLength="8" lengthAdjust="spacingAndGlyphs" >H7</text>
<text x="682" y="514.6" font-size="5.8" fill="#f0f" text-anchor="start" font-weight="bold" textLength="6" lengthAdjust="spacingAndGlyphs" >7F</text>
<text x="637.8" y="520" font-size="5.2" fill="#f0f" text-anchor="start" font-weight="bold" textLength="6.5" lengthAdjust="spacingAndGlyphs" >HB</text>
<text x="665" y="520" font-size="5.2" fill="#f0f" text-anchor="start" font-weight="bold" textLength="6" lengthAdjust="spacingAndGlyphs" >BH</text>
<text x="671.5" y="520" font-size="5.2" fill="#f0f" text-anchor="start" font-weight="bold" textLength="4" lengthAdjust="spacingAndGlyphs" >H</text>
<text x="637.8" y="524.5" font-size="5.2" fill="#f0f" text-anchor="start" font-weight="bold" textLength="6.5" lengthAdjust="spacingAndGlyphs" >HB</text>
<text x="665" y="524.5" font-size="5.2" fill="#f0f" text-anchor="start" font-weight="bold" textLength="6" lengthAdjust="spacingAndGlyphs" >BH</text>
<text x="671.5" y="524.5" font-size="5.2" fill="#f0f" text-anchor="start" font-weight="bold" textLength="4" lengthAdjust="spacingAndGlyphs" >H</text>
<text x="637.8" y="529" font-size="5.2" fill="#f0f" text-anchor="start" font-weight="bold" textLength="6.5" lengthAdjust="spacingAndGlyphs" >HB</text>
<text x="637.8" y="533.5" font-size="5.2" fill="#f0f" text-anchor="start" font-weight="bold" textLength="6.5" lengthAdjust="spacingAndGlyphs" >HB</text>
<text x="665" y="533.5" font-size="5.2" fill="#f0f" text-anchor="start" font-weight="bold" textLength="6" lengthAdjust="spacingAndGlyphs" >BH</text>
<text x="671.5" y="533.5" font-size="5.2" fill="#f0f" text-anchor="start" font-weight="bold" textLength="4" lengthAdjust="spacingAndGlyphs" >H</text>
<text x="691.5" y="518.7" font-size="5.8" fill="#f0f" text-anchor="start" font-weight="bold" textLength="7" lengthAdjust="spacingAndGlyphs" >BH</text>
<text x="701" y="518.7" font-size="5.8" fill="#f0f" text-anchor="start" font-weight="bold" textLength="3" lengthAdjust="spacingAndGlyphs" >H</text>
<text x="708" y="518.7" font-size="5.8" fill="#f0f" text-anchor="start" font-weight="bold" textLength="3" lengthAdjust="spacingAndGlyphs" >If</text>
<text x="716" y="518.7" font-size="5.8" fill="#f0f" text-anchor="start" font-weight="bold" textLength="3" lengthAdjust="spacingAndGlyphs" >Z</text>
<text x="722.5" y="518.7" font-size="5.8" fill="#f0f" text-anchor="start" font-weight="bold" textLength="9" lengthAdjust="spacingAndGlyphs" >HEB</text>
<text x="733.5" y="518.7" font-size="5.8" fill="#f0f" text-anchor="start" font-weight="bold" textLength="8" lengthAdjust="spacingAndGlyphs" >HH</text>
<text x="695" y="532.8" font-size="5.8" fill="#f0f" text-anchor="start" font-weight="bold" textLength="4" lengthAdjust="spacingAndGlyphs" >H</text>
<text x="708.5" y="532.8" font-size="5.8" fill="#f0f" text-anchor="start" font-weight="bold" textLength="4" lengthAdjust="spacingAndGlyphs" >H</text>
<text x="721.5" y="532.8" font-size="5.8" fill="#f0f" text-anchor="start" font-weight="bold" textLength="4" lengthAdjust="spacingAndGlyphs" >H</text>
<text x="735" y="532.8" font-size="5.8" fill="#f0f" text-anchor="start" font-weight="bold" textLength="4" lengthAdjust="spacingAndGlyphs" >H</text>
<text x="722.5" y="527" font-size="5" fill="#fff" text-anchor="start" font-weight="bold" textLength="4" lengthAdjust="spacingAndGlyphs" >II</text>
<text x="734" y="527" font-size="5" fill="#fff" text-anchor="start" font-weight="bold" textLength="3" lengthAdjust="spacingAndGlyphs" >7</text>
</g>
<text x="652" y="520.5" font-size="5" fill="#fff" text-anchor="start" font-weight="normal" textLength="3" lengthAdjust="spacingAndGlyphs" >x</text>
<text x="765.5" y="516.3" font-size="5.6" fill="#fff" text-anchor="start" font-weight="bold" textLength="8" lengthAdjust="spacingAndGlyphs" >RH</text>
<text x="757.5" y="530" font-size="5.6" fill="#fff" text-anchor="start" font-weight="bold" textLength="20" lengthAdjust="spacingAndGlyphs" >SG.5.7</text>
<g shape-rendering="crispEdges">
<rect x="214.5" y="106.5" width="9" height="247" fill="url(#hB)" stroke="none" stroke-width="1" />
<rect x="297.5" y="106.5" width="9" height="247" fill="url(#hB)" stroke="none" stroke-width="1" />
<line x1="214.5" y1="106" x2="214.5" y2="353.5" stroke="#fff" stroke-width="1" />
<line x1="297.5" y1="106" x2="297.5" y2="353.5" stroke="#fff" stroke-width="1" />
<line x1="223.5" y1="106" x2="223.5" y2="118" stroke="#fff" stroke-width="1" />
<line x1="223.5" y1="271" x2="223.5" y2="308" stroke="#fff" stroke-width="1" />
<line x1="223.5" y1="339" x2="223.5" y2="353.5" stroke="#fff" stroke-width="1" />
<line x1="223.5" y1="131" x2="223.5" y2="185" stroke="#f0f" stroke-width="1" stroke-opacity="0.55"/>
<line x1="220.5" y1="213" x2="220.5" y2="262" stroke="#fff" stroke-width="1" />
<line x1="223.5" y1="213" x2="223.5" y2="262" stroke="#fff" stroke-width="1" />
<line x1="306.5" y1="106" x2="306.5" y2="118" stroke="#fff" stroke-width="1" />
<line x1="306.5" y1="271" x2="306.5" y2="308" stroke="#fff" stroke-width="1" />
<line x1="306.5" y1="339" x2="306.5" y2="353.5" stroke="#fff" stroke-width="1" />
<line x1="306.5" y1="131" x2="306.5" y2="185" stroke="#f0f" stroke-width="1" stroke-opacity="0.55"/>
<line x1="306.5" y1="212" x2="306.5" y2="262" stroke="#f0f" stroke-width="1" stroke-opacity="0.55"/>
<line x1="214" y1="106.5" x2="224" y2="106.5" stroke="#fff" stroke-width="1" />
<line x1="297" y1="106.5" x2="307" y2="106.5" stroke="#fff" stroke-width="1" />
</g>
<g shape-rendering="crispEdges">
<rect x="214.5" y="117.5" width="91" height="13" fill="#000" stroke="#fff" stroke-width="1" />
<rect x="215" y="118" width="20" height="12" fill="url(#hW)" stroke="none" stroke-width="1" />
<rect x="305.5" y="115.5" width="4" height="17" fill="#000" stroke="#fff" stroke-width="1" />
<rect x="211.5" y="115.5" width="3" height="19" fill="#fff" stroke="none" stroke-width="1" />
<rect x="212.5" y="128" width="1.5" height="6" fill="#000" stroke="none" stroke-width="1" />
<rect x="222" y="122" width="11" height="4" fill="#000" stroke="none" stroke-width="1" />
<line x1="222" y1="121.5" x2="233" y2="121.5" stroke="#fff" stroke-width="1" />
<line x1="222" y1="126.5" x2="233" y2="126.5" stroke="#fff" stroke-width="1" />
<rect x="208.5" y="119.5" width="3" height="8" fill="none" stroke="#0f0" stroke-width="1" />
<rect x="208.5" y="119.5" width="1.5" height="8" fill="#0f0" stroke="none" stroke-width="1" />
<rect x="212.5" y="121.5" width="10" height="5" fill="#000" stroke="#0f0" stroke-width="1" />
<line x1="203" y1="123.5" x2="316" y2="123.5" stroke="#f00" stroke-width="1" />
</g>
<path d="M227.6,137.3 L230.2,137.3 L236.4,149.0 L242.6,137.3 L245.2,137.3 L245.2,146.0 L243.9,146.5 L239.5,155.5 L239.5,163.5 L242.4,166.3 L248.3,167.2 L248.3,173.8 L224.5,173.8 L224.5,167.2 L230.4,166.3 L233.3,163.5 L233.3,155.5 L228.9,146.5 L227.6,146.0Z" fill="url(#hF)" stroke="#f0f" stroke-width="0.5" />
<rect x="227" y="137.3" width="2" height="28.899999999999977" fill="#fff" stroke="none" stroke-width="1" shape-rendering="crispEdges"/>
<rect x="232" y="155.5" width="1" height="10.699999999999989" fill="#fff" stroke="none" stroke-width="1" shape-rendering="crispEdges"/>
<rect x="228" y="166" width="6" height="1" fill="#fff" stroke="none" stroke-width="1" shape-rendering="crispEdges"/>
<line x1="230.20000000000002" y1="137.6" x2="236.0" y2="148.6" stroke="#fff" stroke-width="0.9" />
<line x1="229.0" y1="146.5" x2="233.0" y2="155.5" stroke="#fff" stroke-width="0.9" />
<rect x="244" y="137.3" width="2" height="28.899999999999977" fill="#fff" stroke="none" stroke-width="1" shape-rendering="crispEdges"/>
<rect x="239" y="155.5" width="1" height="10.699999999999989" fill="#fff" stroke="none" stroke-width="1" shape-rendering="crispEdges"/>
<rect x="240" y="166" width="6" height="1" fill="#fff" stroke="none" stroke-width="1" shape-rendering="crispEdges"/>
<line x1="242.6" y1="137.6" x2="236.8" y2="148.6" stroke="#fff" stroke-width="0.9" />
<line x1="243.8" y1="146.5" x2="239.8" y2="155.5" stroke="#fff" stroke-width="0.9" />
<rect x="226.0" y="174.3" width="9.6" height="10.2" fill="url(#hF)" stroke="#fff" stroke-width="0.9" />
<rect x="226.7" y="177.4" width="8.2" height="4.8" fill="#000" stroke="none" stroke-width="1" />
<line x1="228.10000000000002" y1="179.8" x2="233.5" y2="179.8" stroke="#f00" stroke-width="1.2" />
<line x1="230.8" y1="177.10000000000002" x2="230.8" y2="182.5" stroke="#f00" stroke-width="1.2" />
<rect x="226.6" y="178.0" width="1.5" height="3.6" fill="#fff" stroke="none" stroke-width="1" />
<rect x="233.5" y="178.0" width="1.5" height="3.6" fill="#fff" stroke="none" stroke-width="1" />
<line x1="226.6" y1="177.4" x2="235.0" y2="177.4" stroke="#fff" stroke-width="0.6" />
<line x1="226.6" y1="182.20000000000002" x2="235.0" y2="182.20000000000002" stroke="#fff" stroke-width="0.6" />
<rect x="237.20000000000002" y="174.3" width="9.6" height="10.2" fill="url(#hF)" stroke="#fff" stroke-width="0.9" />
<rect x="237.9" y="177.4" width="8.2" height="4.8" fill="#000" stroke="none" stroke-width="1" />
<line x1="239.30000000000004" y1="179.8" x2="244.70000000000002" y2="179.8" stroke="#f00" stroke-width="1.2" />
<line x1="242.00000000000003" y1="177.10000000000002" x2="242.00000000000003" y2="182.5" stroke="#f00" stroke-width="1.2" />
<rect x="237.8" y="178.0" width="1.5" height="3.6" fill="#fff" stroke="none" stroke-width="1" />
<rect x="244.70000000000002" y="178.0" width="1.5" height="3.6" fill="#fff" stroke="none" stroke-width="1" />
<line x1="237.8" y1="177.4" x2="246.20000000000002" y2="177.4" stroke="#fff" stroke-width="0.6" />
<line x1="237.8" y1="182.20000000000002" x2="246.20000000000002" y2="182.20000000000002" stroke="#fff" stroke-width="0.6" />
<line x1="236.4" y1="143" x2="236.4" y2="186" stroke="#f00" stroke-width="1.1" />
<path d="M227.6,259.7 L230.2,259.7 L236.4,248.0 L242.6,259.7 L245.2,259.7 L245.2,251.0 L243.9,250.5 L239.5,241.5 L239.5,233.5 L242.4,230.7 L248.3,229.8 L248.3,223.2 L224.5,223.2 L224.5,229.8 L230.4,230.7 L233.3,233.5 L233.3,241.5 L228.9,250.5 L227.6,251.0Z" fill="url(#hB)" stroke="#f0f" stroke-width="0.5" />
<rect x="227" y="230.80000000000004" width="2" height="28.89999999999995" fill="#fff" stroke="none" stroke-width="1" shape-rendering="crispEdges"/>
<rect x="232" y="230.80000000000004" width="1" height="10.699999999999989" fill="#fff" stroke="none" stroke-width="1" shape-rendering="crispEdges"/>
<rect x="228" y="230" width="6" height="1" fill="#fff" stroke="none" stroke-width="1" shape-rendering="crispEdges"/>
<line x1="230.20000000000002" y1="259.4" x2="236.0" y2="248.40000000000003" stroke="#fff" stroke-width="0.9" />
<line x1="229.0" y1="250.50000000000003" x2="233.0" y2="241.50000000000003" stroke="#fff" stroke-width="0.9" />
<rect x="244" y="230.80000000000004" width="2" height="28.89999999999995" fill="#fff" stroke="none" stroke-width="1" shape-rendering="crispEdges"/>
<rect x="239" y="230.80000000000004" width="1" height="10.699999999999989" fill="#fff" stroke="none" stroke-width="1" shape-rendering="crispEdges"/>
<rect x="240" y="230" width="6" height="1" fill="#fff" stroke="none" stroke-width="1" shape-rendering="crispEdges"/>
<line x1="242.6" y1="259.4" x2="236.8" y2="248.40000000000003" stroke="#fff" stroke-width="0.9" />
<line x1="243.8" y1="250.50000000000003" x2="239.8" y2="241.50000000000003" stroke="#fff" stroke-width="0.9" />
<rect x="226.0" y="212.6" width="9.6" height="10.2" fill="url(#hF)" stroke="#fff" stroke-width="0.9" />
<rect x="226.7" y="214.9" width="8.2" height="4.8" fill="#000" stroke="none" stroke-width="1" />
<line x1="228.10000000000002" y1="217.3" x2="233.5" y2="217.3" stroke="#f00" stroke-width="1.2" />
<line x1="230.8" y1="214.60000000000002" x2="230.8" y2="220.0" stroke="#f00" stroke-width="1.2" />
<rect x="226.6" y="215.5" width="1.5" height="3.6" fill="#fff" stroke="none" stroke-width="1" />
<rect x="233.5" y="215.5" width="1.5" height="3.6" fill="#fff" stroke="none" stroke-width="1" />
<line x1="226.6" y1="214.9" x2="235.0" y2="214.9" stroke="#fff" stroke-width="0.6" />
<line x1="226.6" y1="219.70000000000002" x2="235.0" y2="219.70000000000002" stroke="#fff" stroke-width="0.6" />
<rect x="237.20000000000002" y="212.6" width="9.6" height="10.2" fill="url(#hF)" stroke="#fff" stroke-width="0.9" />
<rect x="237.9" y="214.9" width="8.2" height="4.8" fill="#000" stroke="none" stroke-width="1" />
<line x1="239.30000000000004" y1="217.3" x2="244.70000000000002" y2="217.3" stroke="#f00" stroke-width="1.2" />
<line x1="242.00000000000003" y1="214.60000000000002" x2="242.00000000000003" y2="220.0" stroke="#f00" stroke-width="1.2" />
<rect x="237.8" y="215.5" width="1.5" height="3.6" fill="#fff" stroke="none" stroke-width="1" />
<rect x="244.70000000000002" y="215.5" width="1.5" height="3.6" fill="#fff" stroke="none" stroke-width="1" />
<line x1="237.8" y1="214.9" x2="246.20000000000002" y2="214.9" stroke="#fff" stroke-width="0.6" />
<line x1="237.8" y1="219.70000000000002" x2="246.20000000000002" y2="219.70000000000002" stroke="#fff" stroke-width="0.6" />
<line x1="236.4" y1="254.00000000000003" x2="236.4" y2="211.00000000000003" stroke="#f00" stroke-width="1.1" />
<path d="M251.9,137.3 L254.5,137.3 L260.7,149.0 L266.9,137.3 L269.5,137.3 L269.5,146.0 L268.2,146.5 L263.8,155.5 L263.8,163.5 L266.7,166.3 L272.6,167.2 L272.6,173.8 L248.8,173.8 L248.8,167.2 L254.7,166.3 L257.6,163.5 L257.6,155.5 L253.2,146.5 L251.9,146.0Z" fill="url(#hF)" stroke="#f0f" stroke-width="0.5" />
<rect x="251" y="137.3" width="2" height="28.899999999999977" fill="#fff" stroke="none" stroke-width="1" shape-rendering="crispEdges"/>
<rect x="257" y="155.5" width="1" height="10.699999999999989" fill="#fff" stroke="none" stroke-width="1" shape-rendering="crispEdges"/>
<rect x="252" y="166" width="6" height="1" fill="#fff" stroke="none" stroke-width="1" shape-rendering="crispEdges"/>
<line x1="254.5" y1="137.6" x2="260.3" y2="148.6" stroke="#fff" stroke-width="0.9" />
<line x1="253.29999999999998" y1="146.5" x2="257.3" y2="155.5" stroke="#fff" stroke-width="0.9" />
<rect x="268" y="137.3" width="2" height="28.899999999999977" fill="#fff" stroke="none" stroke-width="1" shape-rendering="crispEdges"/>
<rect x="264" y="155.5" width="1" height="10.699999999999989" fill="#fff" stroke="none" stroke-width="1" shape-rendering="crispEdges"/>
<rect x="264" y="166" width="6" height="1" fill="#fff" stroke="none" stroke-width="1" shape-rendering="crispEdges"/>
<line x1="266.9" y1="137.6" x2="261.09999999999997" y2="148.6" stroke="#fff" stroke-width="0.9" />
<line x1="268.09999999999997" y1="146.5" x2="264.09999999999997" y2="155.5" stroke="#fff" stroke-width="0.9" />
<rect x="250.29999999999998" y="174.3" width="9.6" height="10.2" fill="url(#hF)" stroke="#fff" stroke-width="0.9" />
<rect x="250.99999999999997" y="177.4" width="8.2" height="4.8" fill="#000" stroke="none" stroke-width="1" />
<line x1="252.4" y1="179.8" x2="257.8" y2="179.8" stroke="#f00" stroke-width="1.2" />
<line x1="255.1" y1="177.10000000000002" x2="255.1" y2="182.5" stroke="#f00" stroke-width="1.2" />
<rect x="250.89999999999998" y="178.0" width="1.5" height="3.6" fill="#fff" stroke="none" stroke-width="1" />
<rect x="257.79999999999995" y="178.0" width="1.5" height="3.6" fill="#fff" stroke="none" stroke-width="1" />
<line x1="250.89999999999998" y1="177.4" x2="259.29999999999995" y2="177.4" stroke="#fff" stroke-width="0.6" />
<line x1="250.89999999999998" y1="182.20000000000002" x2="259.29999999999995" y2="182.20000000000002" stroke="#fff" stroke-width="0.6" />
<rect x="261.5" y="174.3" width="9.6" height="10.2" fill="url(#hF)" stroke="#fff" stroke-width="0.9" />
<rect x="262.2" y="177.4" width="8.2" height="4.8" fill="#000" stroke="none" stroke-width="1" />
<line x1="263.6" y1="179.8" x2="269.0" y2="179.8" stroke="#f00" stroke-width="1.2" />
<line x1="266.3" y1="177.10000000000002" x2="266.3" y2="182.5" stroke="#f00" stroke-width="1.2" />
<rect x="262.1" y="178.0" width="1.5" height="3.6" fill="#fff" stroke="none" stroke-width="1" />
<rect x="269.0" y="178.0" width="1.5" height="3.6" fill="#fff" stroke="none" stroke-width="1" />
<line x1="262.1" y1="177.4" x2="270.5" y2="177.4" stroke="#fff" stroke-width="0.6" />
<line x1="262.1" y1="182.20000000000002" x2="270.5" y2="182.20000000000002" stroke="#fff" stroke-width="0.6" />
<line x1="260.7" y1="143" x2="260.7" y2="186" stroke="#f00" stroke-width="1.1" />
<path d="M251.9,259.7 L254.5,259.7 L260.7,248.0 L266.9,259.7 L269.5,259.7 L269.5,251.0 L268.2,250.5 L263.8,241.5 L263.8,233.5 L266.7,230.7 L272.6,229.8 L272.6,223.2 L248.8,223.2 L248.8,229.8 L254.7,230.7 L257.6,233.5 L257.6,241.5 L253.2,250.5 L251.9,251.0Z" fill="url(#hB)" stroke="#f0f" stroke-width="0.5" />
<rect x="251" y="230.80000000000004" width="2" height="28.89999999999995" fill="#fff" stroke="none" stroke-width="1" shape-rendering="crispEdges"/>
<rect x="257" y="230.80000000000004" width="1" height="10.699999999999989" fill="#fff" stroke="none" stroke-width="1" shape-rendering="crispEdges"/>
<rect x="252" y="230" width="6" height="1" fill="#fff" stroke="none" stroke-width="1" shape-rendering="crispEdges"/>
<line x1="254.5" y1="259.4" x2="260.3" y2="248.40000000000003" stroke="#fff" stroke-width="0.9" />
<line x1="253.29999999999998" y1="250.50000000000003" x2="257.3" y2="241.50000000000003" stroke="#fff" stroke-width="0.9" />
<rect x="268" y="230.80000000000004" width="2" height="28.89999999999995" fill="#fff" stroke="none" stroke-width="1" shape-rendering="crispEdges"/>
<rect x="264" y="230.80000000000004" width="1" height="10.699999999999989" fill="#fff" stroke="none" stroke-width="1" shape-rendering="crispEdges"/>
<rect x="264" y="230" width="6" height="1" fill="#fff" stroke="none" stroke-width="1" shape-rendering="crispEdges"/>
<line x1="266.9" y1="259.4" x2="261.09999999999997" y2="248.40000000000003" stroke="#fff" stroke-width="0.9" />
<line x1="268.09999999999997" y1="250.50000000000003" x2="264.09999999999997" y2="241.50000000000003" stroke="#fff" stroke-width="0.9" />
<rect x="250.29999999999998" y="212.6" width="9.6" height="10.2" fill="url(#hF)" stroke="#fff" stroke-width="0.9" />
<rect x="250.99999999999997" y="214.9" width="8.2" height="4.8" fill="#000" stroke="none" stroke-width="1" />
<line x1="252.4" y1="217.3" x2="257.8" y2="217.3" stroke="#f00" stroke-width="1.2" />
<line x1="255.1" y1="214.60000000000002" x2="255.1" y2="220.0" stroke="#f00" stroke-width="1.2" />
<rect x="250.89999999999998" y="215.5" width="1.5" height="3.6" fill="#fff" stroke="none" stroke-width="1" />
<rect x="257.79999999999995" y="215.5" width="1.5" height="3.6" fill="#fff" stroke="none" stroke-width="1" />
<line x1="250.89999999999998" y1="214.9" x2="259.29999999999995" y2="214.9" stroke="#fff" stroke-width="0.6" />
<line x1="250.89999999999998" y1="219.70000000000002" x2="259.29999999999995" y2="219.70000000000002" stroke="#fff" stroke-width="0.6" />
<rect x="261.5" y="212.6" width="9.6" height="10.2" fill="url(#hF)" stroke="#fff" stroke-width="0.9" />
<rect x="262.2" y="214.9" width="8.2" height="4.8" fill="#000" stroke="none" stroke-width="1" />
<line x1="263.6" y1="217.3" x2="269.0" y2="217.3" stroke="#f00" stroke-width="1.2" />
<line x1="266.3" y1="214.60000000000002" x2="266.3" y2="220.0" stroke="#f00" stroke-width="1.2" />
<rect x="262.1" y="215.5" width="1.5" height="3.6" fill="#fff" stroke="none" stroke-width="1" />
<rect x="269.0" y="215.5" width="1.5" height="3.6" fill="#fff" stroke="none" stroke-width="1" />
<line x1="262.1" y1="214.9" x2="270.5" y2="214.9" stroke="#fff" stroke-width="0.6" />
<line x1="262.1" y1="219.70000000000002" x2="270.5" y2="219.70000000000002" stroke="#fff" stroke-width="0.6" />
<line x1="260.7" y1="254.00000000000003" x2="260.7" y2="211.00000000000003" stroke="#f00" stroke-width="1.1" />
<path d="M275.8,137.3 L278.4,137.3 L284.6,149.0 L290.8,137.3 L293.4,137.3 L293.4,146.0 L292.1,146.5 L287.7,155.5 L287.7,163.5 L290.6,166.3 L296.5,167.2 L296.5,173.8 L272.7,173.8 L272.7,167.2 L278.6,166.3 L281.5,163.5 L281.5,155.5 L277.1,146.5 L275.8,146.0Z" fill="url(#hF)" stroke="#f0f" stroke-width="0.5" />
<rect x="275" y="137.3" width="2" height="28.899999999999977" fill="#fff" stroke="none" stroke-width="1" shape-rendering="crispEdges"/>
<rect x="281" y="155.5" width="1" height="10.699999999999989" fill="#fff" stroke="none" stroke-width="1" shape-rendering="crispEdges"/>
<rect x="276" y="166" width="6" height="1" fill="#fff" stroke="none" stroke-width="1" shape-rendering="crispEdges"/>
<line x1="278.40000000000003" y1="137.6" x2="284.20000000000005" y2="148.6" stroke="#fff" stroke-width="0.9" />
<line x1="277.20000000000005" y1="146.5" x2="281.20000000000005" y2="155.5" stroke="#fff" stroke-width="0.9" />
<rect x="292" y="137.3" width="2" height="28.899999999999977" fill="#fff" stroke="none" stroke-width="1" shape-rendering="crispEdges"/>
<rect x="288" y="155.5" width="1" height="10.699999999999989" fill="#fff" stroke="none" stroke-width="1" shape-rendering="crispEdges"/>
<rect x="288" y="166" width="6" height="1" fill="#fff" stroke="none" stroke-width="1" shape-rendering="crispEdges"/>
<line x1="290.8" y1="137.6" x2="285.0" y2="148.6" stroke="#fff" stroke-width="0.9" />
<line x1="292.0" y1="146.5" x2="288.0" y2="155.5" stroke="#fff" stroke-width="0.9" />
<rect x="274.20000000000005" y="174.3" width="9.6" height="10.2" fill="url(#hF)" stroke="#fff" stroke-width="0.9" />
<rect x="274.90000000000003" y="177.4" width="8.2" height="4.8" fill="#000" stroke="none" stroke-width="1" />
<line x1="276.30000000000007" y1="179.8" x2="281.70000000000005" y2="179.8" stroke="#f00" stroke-width="1.2" />
<line x1="279.00000000000006" y1="177.10000000000002" x2="279.00000000000006" y2="182.5" stroke="#f00" stroke-width="1.2" />
<rect x="274.80000000000007" y="178.0" width="1.5" height="3.6" fill="#fff" stroke="none" stroke-width="1" />
<rect x="281.70000000000005" y="178.0" width="1.5" height="3.6" fill="#fff" stroke="none" stroke-width="1" />
<line x1="274.80000000000007" y1="177.4" x2="283.20000000000005" y2="177.4" stroke="#fff" stroke-width="0.6" />
<line x1="274.80000000000007" y1="182.20000000000002" x2="283.20000000000005" y2="182.20000000000002" stroke="#fff" stroke-width="0.6" />
<rect x="285.40000000000003" y="174.3" width="9.6" height="10.2" fill="url(#hF)" stroke="#fff" stroke-width="0.9" />
<rect x="286.1" y="177.4" width="8.2" height="4.8" fill="#000" stroke="none" stroke-width="1" />
<line x1="287.50000000000006" y1="179.8" x2="292.90000000000003" y2="179.8" stroke="#f00" stroke-width="1.2" />
<line x1="290.20000000000005" y1="177.10000000000002" x2="290.20000000000005" y2="182.5" stroke="#f00" stroke-width="1.2" />
<rect x="286.00000000000006" y="178.0" width="1.5" height="3.6" fill="#fff" stroke="none" stroke-width="1" />
<rect x="292.90000000000003" y="178.0" width="1.5" height="3.6" fill="#fff" stroke="none" stroke-width="1" />
<line x1="286.00000000000006" y1="177.4" x2="294.40000000000003" y2="177.4" stroke="#fff" stroke-width="0.6" />
<line x1="286.00000000000006" y1="182.20000000000002" x2="294.40000000000003" y2="182.20000000000002" stroke="#fff" stroke-width="0.6" />
<line x1="284.6" y1="143" x2="284.6" y2="186" stroke="#f00" stroke-width="1.1" />
<path d="M275.8,259.7 L278.4,259.7 L284.6,248.0 L290.8,259.7 L293.4,259.7 L293.4,251.0 L292.1,250.5 L287.7,241.5 L287.7,233.5 L290.6,230.7 L296.5,229.8 L296.5,223.2 L272.7,223.2 L272.7,229.8 L278.6,230.7 L281.5,233.5 L281.5,241.5 L277.1,250.5 L275.8,251.0Z" fill="url(#hB)" stroke="#f0f" stroke-width="0.5" />
<rect x="275" y="230.80000000000004" width="2" height="28.89999999999995" fill="#fff" stroke="none" stroke-width="1" shape-rendering="crispEdges"/>
<rect x="281" y="230.80000000000004" width="1" height="10.699999999999989" fill="#fff" stroke="none" stroke-width="1" shape-rendering="crispEdges"/>
<rect x="276" y="230" width="6" height="1" fill="#fff" stroke="none" stroke-width="1" shape-rendering="crispEdges"/>
<line x1="278.40000000000003" y1="259.4" x2="284.20000000000005" y2="248.40000000000003" stroke="#fff" stroke-width="0.9" />
<line x1="277.20000000000005" y1="250.50000000000003" x2="281.20000000000005" y2="241.50000000000003" stroke="#fff" stroke-width="0.9" />
<rect x="292" y="230.80000000000004" width="2" height="28.89999999999995" fill="#fff" stroke="none" stroke-width="1" shape-rendering="crispEdges"/>
<rect x="288" y="230.80000000000004" width="1" height="10.699999999999989" fill="#fff" stroke="none" stroke-width="1" shape-rendering="crispEdges"/>
<rect x="288" y="230" width="6" height="1" fill="#fff" stroke="none" stroke-width="1" shape-rendering="crispEdges"/>
<line x1="290.8" y1="259.4" x2="285.0" y2="248.40000000000003" stroke="#fff" stroke-width="0.9" />
<line x1="292.0" y1="250.50000000000003" x2="288.0" y2="241.50000000000003" stroke="#fff" stroke-width="0.9" />
<rect x="274.20000000000005" y="212.6" width="9.6" height="10.2" fill="url(#hF)" stroke="#fff" stroke-width="0.9" />
<rect x="274.90000000000003" y="214.9" width="8.2" height="4.8" fill="#000" stroke="none" stroke-width="1" />
<line x1="276.30000000000007" y1="217.3" x2="281.70000000000005" y2="217.3" stroke="#f00" stroke-width="1.2" />
<line x1="279.00000000000006" y1="214.60000000000002" x2="279.00000000000006" y2="220.0" stroke="#f00" stroke-width="1.2" />
<rect x="274.80000000000007" y="215.5" width="1.5" height="3.6" fill="#fff" stroke="none" stroke-width="1" />
<rect x="281.70000000000005" y="215.5" width="1.5" height="3.6" fill="#fff" stroke="none" stroke-width="1" />
<line x1="274.80000000000007" y1="214.9" x2="283.20000000000005" y2="214.9" stroke="#fff" stroke-width="0.6" />
<line x1="274.80000000000007" y1="219.70000000000002" x2="283.20000000000005" y2="219.70000000000002" stroke="#fff" stroke-width="0.6" />
<rect x="285.40000000000003" y="212.6" width="9.6" height="10.2" fill="url(#hF)" stroke="#fff" stroke-width="0.9" />
<rect x="286.1" y="214.9" width="8.2" height="4.8" fill="#000" stroke="none" stroke-width="1" />
<line x1="287.50000000000006" y1="217.3" x2="292.90000000000003" y2="217.3" stroke="#f00" stroke-width="1.2" />
<line x1="290.20000000000005" y1="214.60000000000002" x2="290.20000000000005" y2="220.0" stroke="#f00" stroke-width="1.2" />
<rect x="286.00000000000006" y="215.5" width="1.5" height="3.6" fill="#fff" stroke="none" stroke-width="1" />
<rect x="292.90000000000003" y="215.5" width="1.5" height="3.6" fill="#fff" stroke="none" stroke-width="1" />
<line x1="286.00000000000006" y1="214.9" x2="294.40000000000003" y2="214.9" stroke="#fff" stroke-width="0.6" />
<line x1="286.00000000000006" y1="219.70000000000002" x2="294.40000000000003" y2="219.70000000000002" stroke="#fff" stroke-width="0.6" />
<line x1="284.6" y1="254.00000000000003" x2="284.6" y2="211.00000000000003" stroke="#f00" stroke-width="1.1" />
<rect x="247.1" y="170" width="2.8" height="1.6" fill="#fff" stroke="none" stroke-width="1" />
<rect x="247.1" y="226.5" width="2.8" height="1.6" fill="#fff" stroke="none" stroke-width="1" />
<rect x="271.20000000000005" y="170" width="2.8" height="1.6" fill="#fff" stroke="none" stroke-width="1" />
<rect x="271.20000000000005" y="226.5" width="2.8" height="1.6" fill="#fff" stroke="none" stroke-width="1" />
<circle cx="226.2" cy="227" r="1.3" fill="none" stroke="#fff" stroke-width="0.8" />
<circle cx="295" cy="227" r="1.3" fill="none" stroke="#fff" stroke-width="0.8" />
<g shape-rendering="crispEdges">
<rect x="224" y="185" width="73" height="27.5" fill="#000" stroke="none" stroke-width="1" />
<line x1="224" y1="184.5" x2="297" y2="184.5" stroke="#fff" stroke-width="1" />
<line x1="224" y1="212.5" x2="297" y2="212.5" stroke="#fff" stroke-width="1" />
<line x1="234.5" y1="185.5" x2="234.5" y2="196" stroke="#ff0" stroke-width="1" />
<line x1="238.5" y1="185.5" x2="238.5" y2="196" stroke="#ff0" stroke-width="1" />
<line x1="258.5" y1="185.5" x2="258.5" y2="196" stroke="#ff0" stroke-width="1" />
<line x1="262.5" y1="185.5" x2="262.5" y2="196" stroke="#ff0" stroke-width="1" />
<line x1="282.5" y1="185.5" x2="282.5" y2="196" stroke="#ff0" stroke-width="1" />
<line x1="286.5" y1="185.5" x2="286.5" y2="196" stroke="#ff0" stroke-width="1" />
<line x1="234.5" y1="196.5" x2="286.5" y2="196.5" stroke="#ff0" stroke-width="1" stroke-dasharray="5 2"/>
<line x1="234.5" y1="200.5" x2="290" y2="200.5" stroke="#ff0" stroke-width="1" stroke-dasharray="5 2"/>
</g>
<line x1="236.4" y1="184" x2="236.4" y2="212" stroke="#f00" stroke-width="1.1" />
<line x1="260.7" y1="184" x2="260.7" y2="212" stroke="#f00" stroke-width="1.1" />
<line x1="284.6" y1="184" x2="284.6" y2="212" stroke="#f00" stroke-width="1.1" />
<path d="M214.5,184.8 L221.4,184.8 L231.3,198.6 L224.2,212.4 L214.5,212.4 Z" fill="url(#hWX)" stroke="#fff" stroke-width="1" />
<g shape-rendering="crispEdges">
<rect x="211.5" y="184" width="3" height="29.5" fill="#fff" stroke="none" stroke-width="1" />
<line x1="213.5" y1="186" x2="213.5" y2="212" stroke="#f0f" stroke-width="1" stroke-dasharray="2 1"/>
<rect x="214.5" y="196.5" width="15" height="5" fill="#000" stroke="none" stroke-width="1" />
<rect x="215" y="204.5" width="5" height="3" fill="#000" stroke="none" stroke-width="1" />
<line x1="215" y1="205.5" x2="218" y2="205.5" stroke="#0f0" stroke-width="1" />
<line x1="218" y1="205.5" x2="220" y2="205.5" stroke="#f00" stroke-width="1" />
<rect x="207.5" y="194.5" width="3" height="9" fill="#000" stroke="#0f0" stroke-width="1" />
<line x1="207.5" y1="196.5" x2="210.5" y2="196.5" stroke="#0f0" stroke-width="1" />
<line x1="207.5" y1="201.5" x2="210.5" y2="201.5" stroke="#0f0" stroke-width="1" />
<rect x="210.5" y="196.5" width="3.5" height="5" fill="none" stroke="#0f0" stroke-width="1" />
<line x1="222.5" y1="196.5" x2="222.5" y2="201.5" stroke="#0f0" stroke-width="1" />
<line x1="225.5" y1="196.5" x2="225.5" y2="201.5" stroke="#0f0" stroke-width="1" />
<line x1="227.5" y1="197" x2="227.5" y2="201" stroke="#0f0" stroke-width="1" />
</g>
<rect x="293" y="185" width="16" height="27.5" fill="#000" stroke="none" stroke-width="1" />
<path d="M309.2,188 L306,188 A12.8,10.65 0 0 0 306,209.3 L309.2,209.3 Z" fill="url(#hB)" stroke="#fff" stroke-width="1" />
<path d="M300,195.3 L306,195.3 L307,197 L307,200.4 L306,202 L300,202 Z" fill="#000" stroke="#fff" stroke-width="1.2" />
<rect x="302.5" y="196.8" width="3" height="3.6" fill="#fff" stroke="none" stroke-width="1" />
<g shape-rendering="crispEdges">
<line x1="306" y1="183.5" x2="310" y2="183.5" stroke="#fff" stroke-width="1" />
<line x1="306" y1="214.5" x2="310" y2="214.5" stroke="#fff" stroke-width="1" />
<line x1="309.5" y1="183.5" x2="309.5" y2="214.5" stroke="#fff" stroke-width="1" />
<line x1="224" y1="184.5" x2="297" y2="184.5" stroke="#fff" stroke-width="1" />
<line x1="224" y1="212.5" x2="297" y2="212.5" stroke="#fff" stroke-width="1" />
<line x1="203" y1="198.5" x2="232" y2="198.5" stroke="#f00" stroke-width="1" />
<line x1="232" y1="198.5" x2="319" y2="198.5" stroke="#f00" stroke-width="1" />
<line x1="310.5" y1="193" x2="310.5" y2="273" stroke="#f00" stroke-width="1" stroke-dasharray="9 2 2 2"/>
</g>
<g shape-rendering="crispEdges">
<rect x="224" y="262" width="73" height="10" fill="#000" stroke="none" stroke-width="1" />
<line x1="214" y1="264.5" x2="307" y2="264.5" stroke="#fff" stroke-width="1" />
<line x1="214" y1="268.5" x2="307" y2="268.5" stroke="#fff" stroke-width="1" />
<line x1="224" y1="262.5" x2="297" y2="262.5" stroke="#f0f" stroke-width="1" stroke-dasharray="1 1"/>
<line x1="224" y1="271.5" x2="297" y2="271.5" stroke="#f0f" stroke-width="1" stroke-dasharray="1 1"/>
<line x1="199.5" y1="266.5" x2="320.5" y2="266.5" stroke="#f00" stroke-width="1" />
<rect x="208.5" y="262.5" width="5" height="9" fill="none" stroke="#0f0" stroke-width="1" />
<rect x="208.5" y="262.5" width="2" height="9" fill="#0f0" stroke="none" stroke-width="1" />
<rect x="305.5" y="262.5" width="6" height="9" fill="none" stroke="#0f0" stroke-width="1" />
<rect x="309.5" y="262.5" width="2" height="9" fill="#0f0" stroke="none" stroke-width="1" />
</g>
<path d="M250.0,281.6 L242.6,281.6 L239.5,285.3 L239.5,291.0 L240.5,294.5 L238.0,296.0 L233.5,296.0 L230.4,297.5 L229.5,300.3 L230.4,303.2 L233.5,304.7 L250.0,304.7Z" fill="url(#hX)" stroke="#fff" stroke-width="0.9" />
<path d="M271.4,281.6 L278.8,281.6 L281.9,285.3 L281.9,291.0 L280.9,294.5 L283.4,296.0 L287.9,296.0 L291.0,297.5 L291.9,300.3 L291.0,303.2 L287.9,304.7 L271.4,304.7Z" fill="url(#hX)" stroke="#fff" stroke-width="0.9" />
<g shape-rendering="crispEdges">
<rect x="210.5" y="307.5" width="100" height="31.5" fill="url(#hX)" stroke="#fff" stroke-width="1" />
<rect x="306.5" y="307.5" width="3.5" height="31.5" fill="#000" stroke="#fff" stroke-width="1" />
<rect x="224" y="307" width="73" height="2" fill="#000" stroke="none" stroke-width="1" />
<line x1="224" y1="308.5" x2="297" y2="308.5" stroke="#fff" stroke-width="1" />
<rect x="249.5" y="281.5" width="22" height="57" fill="#000" stroke="#fff" stroke-width="1" />
<line x1="251.5" y1="284.5" x2="251.5" y2="302" stroke="#ff0" stroke-width="1" />
<line x1="269.5" y1="284.5" x2="269.5" y2="302" stroke="#ff0" stroke-width="1" />
<line x1="249.5" y1="302.5" x2="271.5" y2="302.5" stroke="#fff" stroke-width="1" />
<line x1="249.5" y1="305.5" x2="271.5" y2="305.5" stroke="#fff" stroke-width="1" />
<line x1="249.5" y1="309.5" x2="271.5" y2="309.5" stroke="#fff" stroke-width="1" />
<line x1="249.5" y1="283.5" x2="271.5" y2="283.5" stroke="#fff" stroke-width="1" />
<line x1="214.5" y1="307.5" x2="214.5" y2="339" stroke="#fff" stroke-width="1" />
<line x1="306.5" y1="307.5" x2="306.5" y2="339" stroke="#fff" stroke-width="1" />
<rect x="212.5" y="319.5" width="16" height="6" fill="#000" stroke="#fff" stroke-width="1" />
<rect x="290.5" y="319.5" width="16" height="6" fill="#000" stroke="#fff" stroke-width="1" />
<line x1="205" y1="316.5" x2="210" y2="316.5" stroke="#0f0" stroke-width="1" />
<line x1="205" y1="320.5" x2="210" y2="320.5" stroke="#0f0" stroke-width="1" />
<line x1="205" y1="328.5" x2="210" y2="328.5" stroke="#0f0" stroke-width="1" />
<line x1="205.5" y1="316.5" x2="205.5" y2="328.5" stroke="#0f0" stroke-width="1" />
<line x1="209.5" y1="316.5" x2="209.5" y2="328.5" stroke="#0f0" stroke-width="1" />
<line x1="211.5" y1="319.5" x2="211.5" y2="325.5" stroke="#0f0" stroke-width="1" />
<line x1="222.5" y1="319.5" x2="222.5" y2="325.5" stroke="#0f0" stroke-width="1" />
<line x1="310" y1="316.5" x2="315" y2="316.5" stroke="#0f0" stroke-width="1" />
<line x1="310" y1="320.5" x2="315" y2="320.5" stroke="#0f0" stroke-width="1" />
<line x1="310" y1="328.5" x2="315" y2="328.5" stroke="#0f0" stroke-width="1" />
<line x1="310.5" y1="316.5" x2="310.5" y2="328.5" stroke="#0f0" stroke-width="1" />
<line x1="314.5" y1="316.5" x2="314.5" y2="328.5" stroke="#0f0" stroke-width="1" />
<line x1="309.5" y1="319.5" x2="309.5" y2="325.5" stroke="#0f0" stroke-width="1" />
<line x1="299.5" y1="319.5" x2="299.5" y2="325.5" stroke="#0f0" stroke-width="1" />
<rect x="209.5" y="329.5" width="12" height="3" fill="#fff" stroke="none" stroke-width="1" />
<rect x="300.5" y="329.5" width="10.5" height="3" fill="#fff" stroke="none" stroke-width="1" />
<line x1="207" y1="330.5" x2="224" y2="330.5" stroke="#f00" stroke-width="1" />
<line x1="299" y1="330.5" x2="313" y2="330.5" stroke="#f00" stroke-width="1" />
<rect x="241.5" y="305.5" width="9.5" height="3.5" fill="#000" stroke="none" stroke-width="1" />
<rect x="270.5" y="305.5" width="9.5" height="3.5" fill="#000" stroke="none" stroke-width="1" />
<line x1="241.5" y1="305.5" x2="251.5" y2="305.5" stroke="#0f0" stroke-width="1" />
<line x1="241.5" y1="314.5" x2="251.5" y2="314.5" stroke="#0f0" stroke-width="1" stroke-dasharray="3 1"/>
<line x1="270.5" y1="305.5" x2="280" y2="305.5" stroke="#0f0" stroke-width="1" />
<line x1="270.5" y1="314.5" x2="280" y2="314.5" stroke="#0f0" stroke-width="1" stroke-dasharray="3 1"/>
<line x1="251.5" y1="305.5" x2="251.5" y2="309" stroke="#0f0" stroke-width="1" />
<line x1="270.5" y1="305.5" x2="270.5" y2="309" stroke="#0f0" stroke-width="1" />
<line x1="204" y1="322.5" x2="240" y2="322.5" stroke="#f00" stroke-width="1" />
<line x1="243" y1="322.5" x2="285" y2="322.5" stroke="#f00" stroke-width="1" stroke-dasharray="7 2 2 2"/>
<line x1="288" y1="322.5" x2="323" y2="322.5" stroke="#f00" stroke-width="1" />
</g>
<circle cx="238.6" cy="308.6" r="4.2" fill="#000" stroke="#0f0" stroke-width="1" stroke-dasharray="2 1"/>
<line x1="233.4" y1="308.6" x2="243.79999999999998" y2="308.6" stroke="#f00" stroke-width="1.2" />
<line x1="238.6" y1="303.2" x2="238.6" y2="314" stroke="#f00" stroke-width="1.2" />
<circle cx="282.6" cy="308.6" r="4.2" fill="#000" stroke="#0f0" stroke-width="1" stroke-dasharray="2 1"/>
<line x1="277.40000000000003" y1="308.6" x2="287.8" y2="308.6" stroke="#f00" stroke-width="1.2" />
<line x1="282.6" y1="303.2" x2="282.6" y2="314" stroke="#f00" stroke-width="1.2" />
<line x1="238" y1="289" x2="246" y2="289" stroke="#f00" stroke-width="1.1" />
<line x1="275" y1="289" x2="283" y2="289" stroke="#f00" stroke-width="1.1" />
<rect x="268.5" y="282.5" width="4.5" height="8" fill="none" stroke="#0f0" stroke-width="1" shape-rendering="crispEdges"/>
<rect x="278" y="316.5" width="5.5" height="3.5" fill="#000" stroke="none" stroke-width="1" />
<g shape-rendering="crispEdges">
<line x1="223.5" y1="359.5" x2="297.5" y2="359.5" stroke="#fff" stroke-width="1" />
<line x1="223.5" y1="353.5" x2="223.5" y2="362" stroke="#fff" stroke-width="1" />
<line x1="297.5" y1="353.5" x2="297.5" y2="362" stroke="#fff" stroke-width="1" />
<line x1="214.5" y1="353.5" x2="214.5" y2="372.5" stroke="#fff" stroke-width="1" />
<line x1="306.5" y1="353.5" x2="306.5" y2="372.5" stroke="#fff" stroke-width="1" />
<line x1="214.5" y1="372.5" x2="306.5" y2="372.5" stroke="#fff" stroke-width="1" />
<line x1="200" y1="394.5" x2="320" y2="394.5" stroke="#0f0" stroke-width="1" />
</g>
<path d="M240.5,342.7 L248,342.7 M240.5,342.7 L234.5,385.5 M248.9,345.8 L238,386.7" fill="none" stroke="#fff" stroke-width="1" />
<circle cx="247.3" cy="346.6" r="1.4" fill="none" stroke="#fff" stroke-width="1" />
<circle cx="259.4" cy="355.6" r="1.3" fill="#fff" stroke="#fff" stroke-width="1" />
<path d="M249.5,339 C249.5,352 252,362 262,372" fill="none" stroke="#fff" stroke-width="1" />
<path d="M272.2,339.0 C272.4,340.5 272.4,345.4 273.5,348.0 C274.6,350.6 276.6,352.9 279.0,354.5 C281.4,356.1 285.2,356.4 288.0,357.5 C290.8,358.6 293.1,358.9 295.8,361.0 C298.5,363.1 302.2,367.5 304.4,369.8 C306.6,372.1 307.7,372.7 309.2,374.6 C310.7,376.5 312.1,378.3 313.2,381.0 C314.3,383.7 315.2,387.1 315.6,390.6 C316.0,394.1 316.1,398.2 315.6,401.9 C315.1,405.6 314.0,409.3 312.4,413.0 C310.8,416.7 308.6,420.7 305.9,424.3 C303.2,427.9 299.8,431.6 296.3,434.7 C292.8,437.8 289.1,440.6 285.1,442.7 C281.1,444.8 276.4,446.4 272.3,447.5 C268.2,448.6 265.0,449.5 260.6,449.1 C256.2,448.7 250.0,447.2 245.8,445.3 C241.6,443.4 238.3,440.6 235.3,438.0 C232.3,435.4 229.7,432.7 227.6,429.6 C225.5,426.5 224.2,423.1 223.0,419.5 C221.8,415.9 220.9,412.1 220.2,408.3 C219.5,404.6 219.4,400.5 218.6,397.0 C217.8,393.5 216.2,390.2 215.4,387.4 C214.6,384.6 213.8,381.9 213.8,380.2 C213.8,378.5 214.7,377.6 215.5,377.0 C216.3,376.4 217.2,376.2 218.6,376.3 C220.0,376.4 222.5,377.0 224.2,377.8 C225.9,378.6 227.3,379.5 229.0,381.0 C230.7,382.5 232.8,384.7 234.6,386.6 C236.3,388.5 238.3,390.6 239.5,392.2 C240.7,393.8 241.6,395.4 242.0,396.0" fill="none" stroke="#fff" stroke-width="1.0" />
<path d="M260.6,420.3 C256.9,420.4 252.9,419.1 249.9,417.9 C246.9,416.7 244.4,414.2 242.7,413.0 C241.0,411.8 240.8,411.2 239.5,410.7 C238.2,410.2 236.2,409.8 234.6,409.9 C233.0,410.0 231.0,410.4 229.8,411.5 C228.6,412.6 227.5,414.2 227.4,416.3 C227.3,418.4 227.9,421.6 229.0,424.3 C230.1,427.0 231.7,429.8 233.8,432.3 C236.0,434.8 239.0,437.6 241.9,439.5 C244.8,441.4 248.4,442.6 251.5,443.5 C254.6,444.4 257.1,444.8 260.6,444.8 C264.1,444.8 268.2,444.6 272.3,443.5 C276.4,442.4 281.1,440.3 285.1,437.9 C289.1,435.5 293.0,432.4 296.3,429.1 C299.6,425.8 302.9,421.9 305.2,417.9 C307.5,413.9 308.9,408.9 310.0,405.0 C311.1,401.1 311.6,397.8 311.6,394.3 C311.6,390.8 310.9,386.8 310.0,384.2 C309.1,381.6 307.6,379.9 305.9,378.6 C304.1,377.3 301.8,376.6 299.5,376.2 C297.2,375.8 294.2,375.8 292.3,376.5 C290.4,377.2 288.9,378.6 288.0,380.2 C287.1,381.8 287.0,383.4 286.7,385.8 C286.4,388.2 286.7,391.6 286.4,394.3 C286.1,397.0 286.1,399.3 285.1,401.9 C284.1,404.5 282.4,407.4 280.3,409.9 C278.2,412.4 275.6,415.4 272.3,417.1 C269.0,418.8 264.3,420.2 260.6,420.3Z" fill="none" stroke="#fff" stroke-width="1.0" />
<circle cx="260.6" cy="394.3" r="18.4" fill="none" stroke="#ff0" stroke-width="1" stroke-dasharray="22 3"/>
<line x1="245.3" y1="384.3" x2="275.3" y2="404.7" stroke="#fff" stroke-width="1" />
<path d="M260.8,394 L264,391.5 L263,395.5 Z" fill="#fff" stroke="none" stroke-width="1" />
<line x1="260.7" y1="98" x2="260.7" y2="463.5" stroke="#f00" stroke-width="1.1" stroke-dasharray="16 2 2 2"/>
<path d="M436.4,106.5 L545.8,106.5 L572.4,199 L526.6,353.2 M455.4,353.2 L410,199 L436.4,106.5" fill="none" stroke="#fff" stroke-width="1.1" />
<g shape-rendering="crispEdges">
<line x1="409.5" y1="73.5" x2="572.5" y2="73.5" stroke="#fff" stroke-width="1" />
<line x1="436.5" y1="85.5" x2="547" y2="85.5" stroke="#fff" stroke-width="1" />
<line x1="471.5" y1="96.5" x2="511.5" y2="96.5" stroke="#fff" stroke-width="1" />
<line x1="409.5" y1="71" x2="409.5" y2="199" stroke="#fff" stroke-width="1" />
<line x1="572.5" y1="71" x2="572.5" y2="199" stroke="#fff" stroke-width="1" />
<line x1="436.5" y1="83" x2="436.5" y2="106.5" stroke="#fff" stroke-width="1" />
<line x1="546.5" y1="83" x2="546.5" y2="106.5" stroke="#fff" stroke-width="1" />
<line x1="471.5" y1="94" x2="471.5" y2="353" stroke="#fff" stroke-width="1" />
<line x1="511.5" y1="94" x2="511.5" y2="353" stroke="#fff" stroke-width="1" />
<line x1="387.5" y1="106.5" x2="591" y2="106.5" stroke="#fff" stroke-width="1" />
<line x1="387.5" y1="353.5" x2="599.5" y2="353.5" stroke="#fff" stroke-width="1" />
<line x1="389.5" y1="106.5" x2="389.5" y2="353.5" stroke="#fff" stroke-width="1" />
<line x1="501.5" y1="149.5" x2="591" y2="149.5" stroke="#fff" stroke-width="1" />
<line x1="588.5" y1="106.5" x2="588.5" y2="149.5" stroke="#fff" stroke-width="1" />
<line x1="597.5" y1="199" x2="597.5" y2="353.5" stroke="#fff" stroke-width="1" />
<line x1="455.5" y1="353.5" x2="455.5" y2="370.5" stroke="#fff" stroke-width="1" />
<line x1="526.5" y1="353.5" x2="526.5" y2="370.5" stroke="#fff" stroke-width="1" />
<line x1="455.5" y1="370.5" x2="526.5" y2="370.5" stroke="#fff" stroke-width="1" />
<line x1="479.5" y1="353.5" x2="479.5" y2="370.5" stroke="#fff" stroke-width="1" />
<line x1="503.5" y1="353.5" x2="503.5" y2="370.5" stroke="#fff" stroke-width="1" />
</g>
<text x="490.5" y="71.3" font-size="4.2" fill="#fff" text-anchor="start" font-weight="bold" textLength="3.8" lengthAdjust="spacingAndGlyphs" >M</text>
<text x="490.5" y="83.3" font-size="4.2" fill="#fff" text-anchor="start" font-weight="bold" textLength="3.8" lengthAdjust="spacingAndGlyphs" >N</text>
<text x="490" y="94.6" font-size="4.2" fill="#fff" text-anchor="start" font-weight="bold" textLength="3.2" lengthAdjust="spacingAndGlyphs" >H</text>
<text x="585.5" y="129" font-size="4.5" fill="#fff" text-anchor="start" font-weight="bold" textLength="2.5" lengthAdjust="spacingAndGlyphs" transform="rotate(-90 586.5 127)">8</text>
<rect x="386.8" y="208" width="2" height="3.5" fill="#fff" stroke="none" stroke-width="1" />
<rect x="594.8" y="270" width="2.2" height="3.5" fill="#fff" stroke="none" stroke-width="1" />
<line x1="436.4" y1="106.5" x2="435.4" y2="109.5" stroke="#f0f" stroke-width="1.3" />
<line x1="545.8" y1="106.5" x2="546.8" y2="109.5" stroke="#f0f" stroke-width="1.3" />
<line x1="410" y1="199" x2="410" y2="202" stroke="#f0f" stroke-width="1.3" />
<line x1="572.4" y1="199" x2="572.4" y2="202" stroke="#f0f" stroke-width="1.3" />
<line x1="455.4" y1="353.2" x2="453.4" y2="350.7" stroke="#f0f" stroke-width="1.3" />
<line x1="526.6" y1="353.2" x2="528.6" y2="350.7" stroke="#f0f" stroke-width="1.3" />
<circle cx="491.4" cy="198.7" r="67" fill="none" stroke="#f00" stroke-width="0.95" stroke-dasharray="13 3 2 3"/>
<line x1="424.6919999999999" y1="229.874" x2="558.1080000000001" y2="167.52599999999998" stroke="#f00" stroke-width="0.95" stroke-dasharray="11 3 2 3"/>
<line x1="424.6919999999999" y1="166.76299999999998" x2="558.1080000000001" y2="230.637" stroke="#f00" stroke-width="0.95" stroke-dasharray="11 3 2 3"/>
<line x1="401" y1="198.7" x2="601" y2="198.7" stroke="#f00" stroke-width="0.95" stroke-dasharray="30 3 3 3"/>
<line x1="491.4" y1="98" x2="491.4" y2="471" stroke="#f00" stroke-width="0.95" stroke-dasharray="30 3 3 3"/>
<circle cx="429.2" cy="170.1" r="3.6" fill="#000" stroke="#0f0" stroke-width="1.2" />
<circle cx="429.2" cy="170.1" r="1.9" fill="none" stroke="#fcc" stroke-width="0.8" />
<circle cx="429.2" cy="170.1" r="1" fill="#f00" stroke="none" stroke-width="1" />
<circle cx="552.6" cy="170.1" r="3.6" fill="#000" stroke="#0f0" stroke-width="1.2" />
<circle cx="552.6" cy="170.1" r="1.9" fill="none" stroke="#fcc" stroke-width="0.8" />
<circle cx="552.6" cy="170.1" r="1" fill="#f00" stroke="none" stroke-width="1" />
<circle cx="429.2" cy="228" r="3.6" fill="#000" stroke="#0f0" stroke-width="1.2" />
<circle cx="429.2" cy="228" r="1.9" fill="none" stroke="#fcc" stroke-width="0.8" />
<circle cx="429.2" cy="228" r="1" fill="#f00" stroke="none" stroke-width="1" />
<circle cx="552.6" cy="228" r="3.6" fill="#000" stroke="#0f0" stroke-width="1.2" />
<circle cx="552.6" cy="228" r="1.9" fill="none" stroke="#fcc" stroke-width="0.8" />
<circle cx="552.6" cy="228" r="1" fill="#f00" stroke="none" stroke-width="1" />
<circle cx="491.2" cy="267" r="3.6" fill="#000" stroke="#0f0" stroke-width="1.2" />
<circle cx="491.2" cy="267" r="1.9" fill="none" stroke="#fcc" stroke-width="0.8" />
<circle cx="491.2" cy="267" r="1" fill="#f00" stroke="none" stroke-width="1" />
<rect x="482.4" y="115.2" width="18.2" height="19.7" fill="#000" stroke="#fff" stroke-width="1" rx="7"/>
<rect x="484" y="116.8" width="15" height="16.5" fill="none" stroke="#fff" stroke-width="1" rx="5.5"/>
<line x1="477.2" y1="123.7" x2="505.7" y2="123.7" stroke="#f00" stroke-width="0.95" />
<line x1="491.4" y1="110" x2="491.4" y2="137" stroke="#f00" stroke-width="0.95" />
<circle cx="491.4" cy="123.7" r="3.4" fill="none" stroke="#fff" stroke-width="1" />
<path d="M488.0,123.7 A3.4,3.4 0 0 1 491.4,120.3" fill="none" stroke="#0f0" stroke-width="1" />
<path d="M490.2,126.9 L490.2,134.5 M492.59999999999997,126.9 L492.59999999999997,134.5" fill="none" stroke="#fff" stroke-width="1" />
<circle cx="491.4" cy="198.7" r="15.7" fill="#000" stroke="#fff" stroke-width="1" />
<line x1="473.4" y1="198.7" x2="509.4" y2="198.7" stroke="#f00" stroke-width="0.95" />
<line x1="491.4" y1="180.7" x2="491.4" y2="216.7" stroke="#f00" stroke-width="0.95" />
<path d="M484.59999999999997,211.6 L484.59999999999997,191.5 L498.2,191.5 L498.2,211.6" fill="none" stroke="#fff" stroke-width="1" />
<circle cx="491.4" cy="198.7" r="4.2" fill="none" stroke="#0f0" stroke-width="1.2" />
<circle cx="491.4" cy="198.7" r="2.2" fill="#f00" stroke="none" stroke-width="1" />
<path d="M489.9,213 L489.9,205.5 L492.9,205.5 L492.9,213" fill="none" stroke="#fff" stroke-width="1" />
<circle cx="491.4" cy="322.6" r="16" fill="#000" stroke="#fff" stroke-width="1" />
<line x1="464" y1="322.6" x2="518" y2="322.6" stroke="#f00" stroke-width="0.95" stroke-dasharray="6 3 33 3 6 3"/>
<path d="M483.7,337.2 L483.7,313.4 L499.09999999999997,313.4 L499.09999999999997,337.2" fill="none" stroke="#fff" stroke-width="1" />
<circle cx="491.4" cy="322.6" r="5.4" fill="none" stroke="#0f0" stroke-width="1.1" stroke-dasharray="4 3"/>
<circle cx="491.4" cy="322.6" r="5.4" fill="none" stroke="#fff" stroke-width="1" stroke-dasharray="3 4" stroke-dashoffset="-4"/>
<path d="M489.79999999999995,339.5 L489.79999999999995,330.5 L493.0,330.5 L493.0,339.5" fill="none" stroke="#fff" stroke-width="1" />
<circle cx="447" cy="269.1" r="6.4" fill="none" stroke="#fff" stroke-width="1" />
<line x1="425.6" y1="269.1" x2="454.5" y2="269.1" stroke="#f00" stroke-width="0.95" />
<line x1="441.2" y1="252.2" x2="452.3" y2="283.4" stroke="#f00" stroke-width="0.95" />
<rect x="480.9" y="148.9" width="20.8" height="14.4" fill="#000" stroke="#fff" stroke-width="1.2" />
<rect x="482" y="150" width="18.6" height="12.2" fill="none" stroke="#f00" stroke-width="0.9" />
<path d="M484.5,161.3 L498,161.3 M486,158 L497,158 L495,154 L491.5,151.5 L488,154 Z M489,155 L494,155" fill="#fff" stroke="#fff" stroke-width="1.3" />
<line x1="480.9" y1="151" x2="352" y2="185.2" stroke="#fff" stroke-width="1" />
<line x1="480.9" y1="163.3" x2="352" y2="199.8" stroke="#fff" stroke-width="1" />
<g shape-rendering="crispEdges">
<line x1="479.5" y1="370.5" x2="479.5" y2="410" stroke="#fff" stroke-width="1" />
<line x1="503.5" y1="370.5" x2="503.5" y2="410" stroke="#fff" stroke-width="1" />
</g>
<path d="M487.6,376.6 C487.3,377.1 486.2,377.9 485.6,379.5 C485.0,381.1 484.8,383.1 484.2,386.0 C483.6,388.9 482.7,393.4 482.0,397.0 C481.3,400.6 480.6,405.1 480.2,407.5 C479.8,409.9 479.5,409.9 479.6,411.5 C479.7,413.1 480.1,414.2 480.6,417.0 C481.1,419.8 482.1,424.3 482.8,428.0 C483.5,431.7 484.4,435.9 485.0,439.0 C485.6,442.1 485.7,444.7 486.2,446.5 C486.7,448.3 487.7,449.2 488.0,449.8" fill="none" stroke="#fff" stroke-width="1.1" />
<path d="M495.4,376.6 C495.7,377.1 496.8,377.9 497.4,379.5 C498.0,381.1 498.2,383.1 498.8,386.0 C499.4,388.9 500.3,393.4 501.0,397.0 C501.7,400.6 502.4,405.1 502.8,407.5 C503.2,409.9 503.5,409.9 503.4,411.5 C503.3,413.1 502.9,414.2 502.4,417.0 C501.9,419.8 500.9,424.3 500.2,428.0 C499.5,431.7 498.6,435.9 498.0,439.0 C497.4,442.1 497.3,444.7 496.8,446.5 C496.3,448.3 495.3,449.2 495.0,449.8" fill="none" stroke="#fff" stroke-width="1.1" />
<path d="M487.6,376.6 Q491.5,375.3 495.4,376.6 M488,449.8 Q491.5,451 495,449.8" fill="none" stroke="#fff" stroke-width="1" />
<path d="M480.0,410.5 C480.6,410.8 482.4,411.4 483.5,412.5 C484.6,413.6 485.8,414.9 486.5,417.0 C487.2,419.1 487.5,420.0 487.7,425.0 C487.9,430.0 487.8,443.3 487.8,447.0" fill="none" stroke="#fff" stroke-width="1" />
<path d="M503.0,410.5 C502.4,410.8 500.6,411.4 499.5,412.5 C498.4,413.6 497.2,414.9 496.5,417.0 C495.8,419.1 495.5,420.0 495.3,425.0 C495.1,430.0 495.2,443.3 495.2,447.0" fill="none" stroke="#fff" stroke-width="1" />
<path d="M481.3,421.6 Q484,415.5 489,413.8 M501.7,421.6 Q499,415.5 494,413.8 M489.5,413.5 L493.5,413.5" fill="none" stroke="#ff0" stroke-width="1.2" />
<path d="M483.8,364.5 l3,3.2 l-0.6,-3.4 z" fill="#fff" stroke="#fff" stroke-width="1" />
<text x="163.8" y="102" font-size="5" fill="#fff" text-anchor="start" font-weight="bold" textLength="4.5" lengthAdjust="spacingAndGlyphs" stroke="#fff" stroke-width="0.25">37</text>
<line x1="163" y1="103.5" x2="169" y2="103.5" stroke="#fff" stroke-width="1" shape-rendering="crispEdges"/>
<line x1="168.8" y1="103.5" x2="208.4" y2="120.4" stroke="#fff" stroke-width="1.1" />
<text x="163.8" y="123.8" font-size="5" fill="#fff" text-anchor="start" font-weight="bold" textLength="4.5" lengthAdjust="spacingAndGlyphs" stroke="#fff" stroke-width="0.25">36</text>
<line x1="163" y1="125.5" x2="169" y2="125.5" stroke="#fff" stroke-width="1" shape-rendering="crispEdges"/>
<line x1="168.8" y1="125.5" x2="215.6" y2="167.8" stroke="#fff" stroke-width="1.1" />
<text x="163.8" y="148.3" font-size="5" fill="#fff" text-anchor="start" font-weight="bold" textLength="4.5" lengthAdjust="spacingAndGlyphs" stroke="#fff" stroke-width="0.25">35</text>
<line x1="163" y1="149.5" x2="169" y2="149.5" stroke="#fff" stroke-width="1" shape-rendering="crispEdges"/>
<line x1="168.8" y1="149.5" x2="217.6" y2="173.6" stroke="#fff" stroke-width="1.1" />
<text x="163.8" y="167.2" font-size="5" fill="#fff" text-anchor="start" font-weight="bold" textLength="4.5" lengthAdjust="spacingAndGlyphs" stroke="#fff" stroke-width="0.25">34</text>
<line x1="163" y1="168.5" x2="169" y2="168.5" stroke="#fff" stroke-width="1" shape-rendering="crispEdges"/>
<line x1="168.8" y1="168.5" x2="213.7" y2="181.5" stroke="#fff" stroke-width="1.1" />
<text x="163.8" y="185.3" font-size="5" fill="#fff" text-anchor="start" font-weight="bold" textLength="4.5" lengthAdjust="spacingAndGlyphs" stroke="#fff" stroke-width="0.25">33</text>
<line x1="163" y1="186.5" x2="169" y2="186.5" stroke="#fff" stroke-width="1" shape-rendering="crispEdges"/>
<line x1="168.8" y1="186.5" x2="207.8" y2="197.1" stroke="#fff" stroke-width="1.1" />
<text x="163.8" y="230.8" font-size="5" fill="#fff" text-anchor="start" font-weight="bold" textLength="4.5" lengthAdjust="spacingAndGlyphs" stroke="#fff" stroke-width="0.25">32</text>
<line x1="163" y1="232.5" x2="169" y2="232.5" stroke="#fff" stroke-width="1" shape-rendering="crispEdges"/>
<line x1="168.8" y1="232.5" x2="213.7" y2="216.7" stroke="#fff" stroke-width="1.1" />
<text x="163.8" y="254.3" font-size="5" fill="#fff" text-anchor="start" font-weight="bold" textLength="4.5" lengthAdjust="spacingAndGlyphs" stroke="#fff" stroke-width="0.25">31</text>
<line x1="163" y1="255.5" x2="169" y2="255.5" stroke="#fff" stroke-width="1" shape-rendering="crispEdges"/>
<line x1="168.8" y1="255.5" x2="221" y2="217.5" stroke="#fff" stroke-width="1.1" />
<text x="163.8" y="278.3" font-size="5" fill="#fff" text-anchor="start" font-weight="bold" textLength="4.5" lengthAdjust="spacingAndGlyphs" stroke="#fff" stroke-width="0.25">30</text>
<line x1="163" y1="279.5" x2="169" y2="279.5" stroke="#fff" stroke-width="1" shape-rendering="crispEdges"/>
<line x1="168.8" y1="279.5" x2="207.8" y2="269.5" stroke="#fff" stroke-width="1.1" />
<text x="163.8" y="84.3" font-size="5" fill="#fff" text-anchor="start" font-weight="bold" textLength="4.5" lengthAdjust="spacingAndGlyphs" stroke="#fff" stroke-width="0.25">41</text>
<line x1="163" y1="85.5" x2="169" y2="85.5" stroke="#fff" stroke-width="1" shape-rendering="crispEdges"/>
<text x="163.8" y="93.4" font-size="5" fill="#fff" text-anchor="start" font-weight="bold" textLength="4.5" lengthAdjust="spacingAndGlyphs" stroke="#fff" stroke-width="0.25">41</text>
<line x1="163" y1="94.5" x2="169" y2="94.5" stroke="#fff" stroke-width="1" shape-rendering="crispEdges"/>
<line x1="168.7" y1="85.5" x2="168.7" y2="103" stroke="#fff" stroke-width="0.9" />
<text x="163.8" y="193.3" font-size="5" fill="#fff" text-anchor="start" font-weight="bold" textLength="4.5" lengthAdjust="spacingAndGlyphs" stroke="#fff" stroke-width="0.25">38</text>
<line x1="163" y1="194.5" x2="169" y2="194.5" stroke="#fff" stroke-width="1" shape-rendering="crispEdges"/>
<text x="163.8" y="198.2" font-size="5" fill="#fff" text-anchor="start" font-weight="bold" textLength="4.5" lengthAdjust="spacingAndGlyphs" stroke="#fff" stroke-width="0.25">38</text>
<line x1="163" y1="199.5" x2="169" y2="199.5" stroke="#fff" stroke-width="1" shape-rendering="crispEdges"/>
<text x="163.8" y="203" font-size="5" fill="#fff" text-anchor="start" font-weight="bold" textLength="4.5" lengthAdjust="spacingAndGlyphs" stroke="#fff" stroke-width="0.25">38</text>
<line x1="163" y1="204.5" x2="169" y2="204.5" stroke="#fff" stroke-width="1" shape-rendering="crispEdges"/>
<line x1="168.7" y1="187" x2="168.7" y2="204.5" stroke="#fff" stroke-width="0.9" />
<text x="346.8" y="99.1" font-size="5" fill="#fff" text-anchor="start" font-weight="bold" textLength="4.5" lengthAdjust="spacingAndGlyphs" stroke="#fff" stroke-width="0.25">29</text>
<line x1="346" y1="100.5" x2="352" y2="100.5" stroke="#fff" stroke-width="1" shape-rendering="crispEdges"/>
<line x1="346.3" y1="100.5" x2="299.8" y2="121.8" stroke="#fff" stroke-width="1.1" />
<text x="346.8" y="110.3" font-size="5" fill="#fff" text-anchor="start" font-weight="bold" textLength="4.5" lengthAdjust="spacingAndGlyphs" stroke="#fff" stroke-width="0.25">28</text>
<line x1="346" y1="111.5" x2="352" y2="111.5" stroke="#fff" stroke-width="1" shape-rendering="crispEdges"/>
<line x1="346.3" y1="111.5" x2="283" y2="161.5" stroke="#fff" stroke-width="1.1" />
<text x="346.8" y="122.6" font-size="5" fill="#fff" text-anchor="start" font-weight="bold" textLength="4.5" lengthAdjust="spacingAndGlyphs" stroke="#fff" stroke-width="0.25">27</text>
<line x1="346" y1="123.5" x2="352" y2="123.5" stroke="#fff" stroke-width="1" shape-rendering="crispEdges"/>
<line x1="346.3" y1="123.5" x2="287" y2="167.5" stroke="#fff" stroke-width="1.1" />
<text x="346.8" y="135" font-size="5" fill="#fff" text-anchor="start" font-weight="bold" textLength="4.5" lengthAdjust="spacingAndGlyphs" stroke="#fff" stroke-width="0.25">26</text>
<line x1="346" y1="136.5" x2="352" y2="136.5" stroke="#fff" stroke-width="1" shape-rendering="crispEdges"/>
<line x1="346.3" y1="136.5" x2="290" y2="174" stroke="#fff" stroke-width="1.1" />
<text x="346.8" y="149" font-size="5" fill="#fff" text-anchor="start" font-weight="bold" textLength="4.5" lengthAdjust="spacingAndGlyphs" stroke="#fff" stroke-width="0.25">25</text>
<line x1="346" y1="150.5" x2="352" y2="150.5" stroke="#fff" stroke-width="1" shape-rendering="crispEdges"/>
<line x1="346.3" y1="150.5" x2="297.8" y2="176" stroke="#fff" stroke-width="1.1" />
<text x="346.8" y="161.2" font-size="5" fill="#fff" text-anchor="start" font-weight="bold" textLength="4.5" lengthAdjust="spacingAndGlyphs" stroke="#fff" stroke-width="0.25">24</text>
<line x1="346" y1="162.5" x2="352" y2="162.5" stroke="#fff" stroke-width="1" shape-rendering="crispEdges"/>
<line x1="346.3" y1="162.5" x2="306.6" y2="181.9" stroke="#fff" stroke-width="1.1" />
<text x="346.8" y="175.7" font-size="5" fill="#fff" text-anchor="start" font-weight="bold" textLength="4.5" lengthAdjust="spacingAndGlyphs" stroke="#fff" stroke-width="0.25">23</text>
<line x1="346" y1="176.5" x2="352" y2="176.5" stroke="#fff" stroke-width="1" shape-rendering="crispEdges"/>
<line x1="346.3" y1="176.5" x2="309.6" y2="193.6" stroke="#fff" stroke-width="1.1" />
<text x="346.8" y="186.5" font-size="5" fill="#fff" text-anchor="start" font-weight="bold" textLength="4.5" lengthAdjust="spacingAndGlyphs" stroke="#fff" stroke-width="0.25">22</text>
<line x1="346" y1="187.5" x2="352" y2="187.5" stroke="#fff" stroke-width="1" shape-rendering="crispEdges"/>
<text x="346.8" y="201" font-size="5" fill="#fff" text-anchor="start" font-weight="bold" textLength="4.5" lengthAdjust="spacingAndGlyphs" stroke="#fff" stroke-width="0.25">21</text>
<line x1="346" y1="202.5" x2="352" y2="202.5" stroke="#fff" stroke-width="1" shape-rendering="crispEdges"/>
<line x1="351.8" y1="187.7" x2="353" y2="185" stroke="#fff" stroke-width="1" />
<line x1="351.8" y1="202.2" x2="353" y2="199.6" stroke="#fff" stroke-width="1" />
<text x="347.5" y="216" font-size="5" fill="#fff" text-anchor="start" font-weight="bold" textLength="3" lengthAdjust="spacingAndGlyphs" stroke="#fff" stroke-width="0.25">20</text>
<line x1="347" y1="217.5" x2="305.6" y2="261" stroke="#fff" stroke-width="1" />
<line x1="344.5" y1="222" x2="344.5" y2="245.5" stroke="#fff" stroke-width="0.8" />
<text x="346.5" y="227" font-size="5" fill="#fff" text-anchor="start" font-weight="bold" textLength="3.5" lengthAdjust="spacingAndGlyphs" stroke="#fff" stroke-width="0.25">19</text>
<line x1="344.5" y1="223.5" x2="347" y2="223.5" stroke="#fff" stroke-width="0.8" />
<text x="346.5" y="235" font-size="5" fill="#fff" text-anchor="start" font-weight="bold" textLength="3.5" lengthAdjust="spacingAndGlyphs" stroke="#fff" stroke-width="0.25">19</text>
<line x1="344.5" y1="231.5" x2="347" y2="231.5" stroke="#fff" stroke-width="0.8" />
<text x="346.5" y="243.5" font-size="5" fill="#fff" text-anchor="start" font-weight="bold" textLength="3.5" lengthAdjust="spacingAndGlyphs" stroke="#fff" stroke-width="0.25">19</text>
<line x1="344.5" y1="240.0" x2="347" y2="240.0" stroke="#fff" stroke-width="0.8" />
<line x1="344.5" y1="245.5" x2="311.5" y2="266.9" stroke="#fff" stroke-width="1" />
<text x="347.5" y="260.5" font-size="5" fill="#fff" text-anchor="start" font-weight="bold" textLength="3" lengthAdjust="spacingAndGlyphs" stroke="#fff" stroke-width="0.25">3</text>
<line x1="347" y1="261.5" x2="351" y2="261.5" stroke="#fff" stroke-width="1" shape-rendering="crispEdges"/>
<line x1="347" y1="261.5" x2="272" y2="284.5" stroke="#fff" stroke-width="1.1" />
<text x="347.5" y="278" font-size="5" fill="#fff" text-anchor="start" font-weight="bold" textLength="3" lengthAdjust="spacingAndGlyphs" stroke="#fff" stroke-width="0.25">4</text>
<line x1="347" y1="279.5" x2="351" y2="279.5" stroke="#fff" stroke-width="1" shape-rendering="crispEdges"/>
<line x1="347" y1="279.5" x2="285" y2="297" stroke="#fff" stroke-width="1.1" />
<text x="347.5" y="287" font-size="5" fill="#fff" text-anchor="start" font-weight="bold" textLength="3" lengthAdjust="spacingAndGlyphs" stroke="#fff" stroke-width="0.25">5</text>
<line x1="347" y1="288.5" x2="351" y2="288.5" stroke="#fff" stroke-width="1" shape-rendering="crispEdges"/>
<line x1="347" y1="288.5" x2="289" y2="308.7" stroke="#fff" stroke-width="1.1" />
<text x="347.5" y="299.8" font-size="5" fill="#fff" text-anchor="start" font-weight="bold" textLength="3" lengthAdjust="spacingAndGlyphs" stroke="#fff" stroke-width="0.25">6</text>
<line x1="347" y1="301.5" x2="351" y2="301.5" stroke="#fff" stroke-width="1" shape-rendering="crispEdges"/>
<line x1="347" y1="301.5" x2="296" y2="316.5" stroke="#fff" stroke-width="1.1" />
<text x="347.5" y="315.5" font-size="5" fill="#fff" text-anchor="start" font-weight="bold" textLength="3" lengthAdjust="spacingAndGlyphs" stroke="#fff" stroke-width="0.25">7</text>
<line x1="347" y1="316.5" x2="351" y2="316.5" stroke="#fff" stroke-width="1" shape-rendering="crispEdges"/>
<line x1="347" y1="316.5" x2="312.4" y2="324.4" stroke="#fff" stroke-width="1.1" />
<text x="347.5" y="348" font-size="5" fill="#fff" text-anchor="start" font-weight="bold" textLength="3" lengthAdjust="spacingAndGlyphs" stroke="#fff" stroke-width="0.25">7</text>
<line x1="347" y1="349.5" x2="351" y2="349.5" stroke="#fff" stroke-width="1" shape-rendering="crispEdges"/>
<line x1="347" y1="349.5" x2="306.6" y2="331.4" stroke="#fff" stroke-width="1.1" />
<text x="347.5" y="415.3" font-size="5" fill="#fff" text-anchor="start" font-weight="bold" textLength="3" lengthAdjust="spacingAndGlyphs" stroke="#fff" stroke-width="0.25">1</text>
<line x1="347" y1="416.5" x2="351" y2="416.5" stroke="#fff" stroke-width="1" shape-rendering="crispEdges"/>
<line x1="347" y1="416.5" x2="285.5" y2="422.3" stroke="#fff" stroke-width="1.1" />
<text x="313.8" y="371" font-size="5" fill="#fff" text-anchor="start" font-weight="normal" textLength="34" lengthAdjust="spacingAndGlyphs" >15, 16, 17, 18</text>
<line x1="307.8" y1="372.5" x2="348" y2="372.5" stroke="#fff" stroke-width="0.9" />
<line x1="247.7" y1="347.2" x2="307.8" y2="372.3" stroke="#fff" stroke-width="1.0" />
<text x="268" y="370.5" font-size="4.5" fill="#fff" text-anchor="start" font-weight="bold" textLength="5" lengthAdjust="spacingAndGlyphs" >70</text>
<g stroke="#fff" stroke-width="0.12">
<text x="687.3" y="215" font-size="5" fill="#fff" text-anchor="start" font-weight="bold" textLength="13" lengthAdjust="spacingAndGlyphs" >HEBF:</text>
<text x="677.3" y="221" font-size="4" fill="#fff" text-anchor="start" font-weight="normal" >1</text>
<text x="681" y="221" font-size="5" fill="#fff" text-anchor="start" font-weight="bold" textLength="91.5" lengthAdjust="spacingAndGlyphs" >WHERE, HEMHBA BHEBM, EHEBWT-EHBEL.KHEBMEFEH</text>
<text x="677.3" y="226.6" font-size="4" fill="#fff" text-anchor="start" font-weight="normal" >1</text>
<text x="681" y="226.6" font-size="5" fill="#fff" text-anchor="start" font-weight="bold" textLength="65" lengthAdjust="spacingAndGlyphs" >WHERE, HEMHBA BHEBM, EHEBWT-EH</text>
<text x="677.3" y="232.1" font-size="4" fill="#fff" text-anchor="start" font-weight="normal" >1</text>
<text x="681" y="232.1" font-size="5" fill="#fff" text-anchor="start" font-weight="bold" textLength="73" lengthAdjust="spacingAndGlyphs" >WHERE, HEMHBA BHEBM, EHEBWT-EHBEL.</text>
</g>
</g>
</svg>
</body></html>
